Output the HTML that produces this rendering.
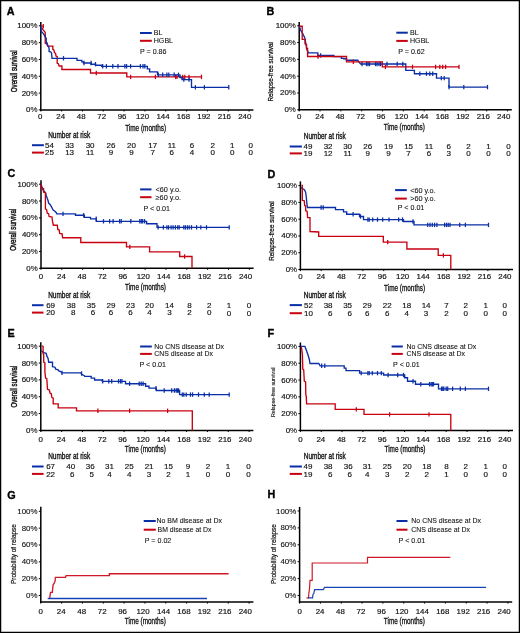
<!DOCTYPE html>
<html><head><meta charset="utf-8"><style>
html,body{margin:0;padding:0;background:#fff;}
svg{display:block;will-change:transform;}
text{font-family:"Liberation Sans", sans-serif;}
</style></head><body>
<svg width="520" height="633" viewBox="0 0 520 633">
<rect x="0" y="0" width="520" height="633" fill="#fff"/>
<text x="6.80" y="14.60" font-size="10.8" text-anchor="start" font-weight="bold" fill="#000" stroke="#000" stroke-width="0.35">A</text>
<line x1="40.80" y1="21.90" x2="40.80" y2="110.65" stroke="#000" stroke-width="1.5"/>
<line x1="40.05" y1="109.90" x2="253.40" y2="109.90" stroke="#000" stroke-width="1.5"/>
<line x1="38.80" y1="25.80" x2="40.80" y2="25.80" stroke="#000" stroke-width="1.0"/>
<text x="37.50" y="28.30" font-size="7.9" text-anchor="end" fill="#111" stroke="#111" stroke-width="0.18">100<tspan fill="#333" stroke-width="0.15">%</tspan></text>
<line x1="38.80" y1="42.62" x2="40.80" y2="42.62" stroke="#000" stroke-width="1.0"/>
<text x="37.50" y="45.12" font-size="7.9" text-anchor="end" fill="#111" stroke="#111" stroke-width="0.18">80<tspan fill="#333" stroke-width="0.15">%</tspan></text>
<line x1="38.80" y1="59.44" x2="40.80" y2="59.44" stroke="#000" stroke-width="1.0"/>
<text x="37.50" y="61.94" font-size="7.9" text-anchor="end" fill="#111" stroke="#111" stroke-width="0.18">60<tspan fill="#333" stroke-width="0.15">%</tspan></text>
<line x1="38.80" y1="76.26" x2="40.80" y2="76.26" stroke="#000" stroke-width="1.0"/>
<text x="37.50" y="78.76" font-size="7.9" text-anchor="end" fill="#111" stroke="#111" stroke-width="0.18">40<tspan fill="#333" stroke-width="0.15">%</tspan></text>
<line x1="38.80" y1="93.08" x2="40.80" y2="93.08" stroke="#000" stroke-width="1.0"/>
<text x="37.50" y="95.58" font-size="7.9" text-anchor="end" fill="#111" stroke="#111" stroke-width="0.18">20<tspan fill="#333" stroke-width="0.15">%</tspan></text>
<line x1="38.80" y1="109.90" x2="40.80" y2="109.90" stroke="#000" stroke-width="1.0"/>
<text x="37.50" y="112.40" font-size="7.9" text-anchor="end" fill="#111" stroke="#111" stroke-width="0.18">0<tspan fill="#333" stroke-width="0.15">%</tspan></text>
<line x1="40.80" y1="109.90" x2="40.80" y2="111.50" stroke="#000" stroke-width="1.0"/>
<text x="40.30" y="118.90" font-size="7.9" text-anchor="middle" font-weight="normal" fill="#111" stroke="#111" stroke-width="0.18">0</text>
<line x1="61.63" y1="109.90" x2="61.63" y2="111.50" stroke="#000" stroke-width="1.0"/>
<text x="60.75" y="118.90" font-size="7.9" text-anchor="middle" font-weight="normal" fill="#111" stroke="#111" stroke-width="0.18">24</text>
<line x1="82.46" y1="109.90" x2="82.46" y2="111.50" stroke="#000" stroke-width="1.0"/>
<text x="81.20" y="118.90" font-size="7.9" text-anchor="middle" font-weight="normal" fill="#111" stroke="#111" stroke-width="0.18">48</text>
<line x1="103.29" y1="109.90" x2="103.29" y2="111.50" stroke="#000" stroke-width="1.0"/>
<text x="101.65" y="118.90" font-size="7.9" text-anchor="middle" font-weight="normal" fill="#111" stroke="#111" stroke-width="0.18">72</text>
<line x1="124.12" y1="109.90" x2="124.12" y2="111.50" stroke="#000" stroke-width="1.0"/>
<text x="122.10" y="118.90" font-size="7.9" text-anchor="middle" font-weight="normal" fill="#111" stroke="#111" stroke-width="0.18">96</text>
<line x1="144.95" y1="109.90" x2="144.95" y2="111.50" stroke="#000" stroke-width="1.0"/>
<text x="142.55" y="118.90" font-size="7.9" text-anchor="middle" font-weight="normal" fill="#111" stroke="#111" stroke-width="0.18">120</text>
<line x1="165.78" y1="109.90" x2="165.78" y2="111.50" stroke="#000" stroke-width="1.0"/>
<text x="163.00" y="118.90" font-size="7.9" text-anchor="middle" font-weight="normal" fill="#111" stroke="#111" stroke-width="0.18">144</text>
<line x1="186.61" y1="109.90" x2="186.61" y2="111.50" stroke="#000" stroke-width="1.0"/>
<text x="183.45" y="118.90" font-size="7.9" text-anchor="middle" font-weight="normal" fill="#111" stroke="#111" stroke-width="0.18">168</text>
<line x1="207.44" y1="109.90" x2="207.44" y2="111.50" stroke="#000" stroke-width="1.0"/>
<text x="203.90" y="118.90" font-size="7.9" text-anchor="middle" font-weight="normal" fill="#111" stroke="#111" stroke-width="0.18">192</text>
<line x1="228.27" y1="109.90" x2="228.27" y2="111.50" stroke="#000" stroke-width="1.0"/>
<text x="224.35" y="118.90" font-size="7.9" text-anchor="middle" font-weight="normal" fill="#111" stroke="#111" stroke-width="0.18">216</text>
<line x1="249.10" y1="109.90" x2="249.10" y2="111.50" stroke="#000" stroke-width="1.0"/>
<text x="244.80" y="118.90" font-size="7.9" text-anchor="middle" font-weight="normal" fill="#111" stroke="#111" stroke-width="0.18">240</text>
<text x="145.70" y="130.80" font-size="8.3" text-anchor="middle" font-weight="normal" fill="#111" textLength="41.0" lengthAdjust="spacingAndGlyphs" stroke="#111" stroke-width="0.3">Time (months)</text>
<g transform="translate(16.60,71.25) rotate(-90)">
<text x="0.00" y="0.00" font-size="8.6" text-anchor="middle" font-weight="normal" fill="#111" textLength="41.8" lengthAdjust="spacingAndGlyphs" stroke="#111" stroke-width="0.45">Overall survival</text>
</g>
<line x1="140.00" y1="33.00" x2="151.80" y2="33.00" stroke="#0a2ea6" stroke-width="2.0"/>
<line x1="140.00" y1="40.80" x2="151.80" y2="40.80" stroke="#c80010" stroke-width="2.0"/>
<text x="153.75" y="35.40" font-size="7.1" text-anchor="start" font-weight="normal" fill="#111" stroke="#111" stroke-width="0.08">BL</text>
<text x="153.75" y="43.20" font-size="7.1" text-anchor="start" font-weight="normal" fill="#111" stroke="#111" stroke-width="0.08">HGBL</text>
<text x="140.00" y="53.80" font-size="7.1" text-anchor="start" font-weight="normal" fill="#111" stroke="#111" stroke-width="0.08">P = 0.86</text>
<text x="48.20" y="137.90" font-size="8.8" text-anchor="start" font-weight="normal" fill="#111" textLength="42" lengthAdjust="spacingAndGlyphs" stroke="#111" stroke-width="0.35">Number at risk</text>
<line x1="32.00" y1="145.20" x2="43.90" y2="145.20" stroke="#0a2ea6" stroke-width="2.0"/>
<line x1="32.00" y1="152.60" x2="43.90" y2="152.60" stroke="#c80010" stroke-width="2.0"/>
<text x="49.50" y="147.60" font-size="8.0" text-anchor="middle" font-weight="normal" fill="#111" stroke="#111" stroke-width="0.15">54</text>
<text x="49.50" y="155.00" font-size="8.0" text-anchor="middle" font-weight="normal" fill="#111" stroke="#111" stroke-width="0.15">25</text>
<text x="69.60" y="147.60" font-size="8.0" text-anchor="middle" font-weight="normal" fill="#111" stroke="#111" stroke-width="0.15">33</text>
<text x="69.60" y="155.00" font-size="8.0" text-anchor="middle" font-weight="normal" fill="#111" stroke="#111" stroke-width="0.15">13</text>
<text x="90.10" y="147.60" font-size="8.0" text-anchor="middle" font-weight="normal" fill="#111" stroke="#111" stroke-width="0.15">30</text>
<text x="90.10" y="155.00" font-size="8.0" text-anchor="middle" font-weight="normal" fill="#111" stroke="#111" stroke-width="0.15">11</text>
<text x="110.90" y="147.60" font-size="8.0" text-anchor="middle" font-weight="normal" fill="#111" stroke="#111" stroke-width="0.15">26</text>
<text x="110.90" y="155.00" font-size="8.0" text-anchor="middle" font-weight="normal" fill="#111" stroke="#111" stroke-width="0.15">9</text>
<text x="131.40" y="147.60" font-size="8.0" text-anchor="middle" font-weight="normal" fill="#111" stroke="#111" stroke-width="0.15">20</text>
<text x="131.40" y="155.00" font-size="8.0" text-anchor="middle" font-weight="normal" fill="#111" stroke="#111" stroke-width="0.15">9</text>
<text x="152.70" y="147.60" font-size="8.0" text-anchor="middle" font-weight="normal" fill="#111" stroke="#111" stroke-width="0.15">17</text>
<text x="152.70" y="155.00" font-size="8.0" text-anchor="middle" font-weight="normal" fill="#111" stroke="#111" stroke-width="0.15">7</text>
<text x="171.80" y="147.60" font-size="8.0" text-anchor="middle" font-weight="normal" fill="#111" stroke="#111" stroke-width="0.15">11</text>
<text x="171.80" y="155.00" font-size="8.0" text-anchor="middle" font-weight="normal" fill="#111" stroke="#111" stroke-width="0.15">6</text>
<text x="191.90" y="147.60" font-size="8.0" text-anchor="middle" font-weight="normal" fill="#111" stroke="#111" stroke-width="0.15">6</text>
<text x="191.90" y="155.00" font-size="8.0" text-anchor="middle" font-weight="normal" fill="#111" stroke="#111" stroke-width="0.15">4</text>
<text x="212.70" y="147.60" font-size="8.0" text-anchor="middle" font-weight="normal" fill="#111" stroke="#111" stroke-width="0.15">2</text>
<text x="212.70" y="155.00" font-size="8.0" text-anchor="middle" font-weight="normal" fill="#111" stroke="#111" stroke-width="0.15">0</text>
<text x="232.30" y="147.60" font-size="8.0" text-anchor="middle" font-weight="normal" fill="#111" stroke="#111" stroke-width="0.15">1</text>
<text x="232.30" y="155.00" font-size="8.0" text-anchor="middle" font-weight="normal" fill="#111" stroke="#111" stroke-width="0.15">0</text>
<text x="250.80" y="147.60" font-size="8.0" text-anchor="middle" font-weight="normal" fill="#111" stroke="#111" stroke-width="0.15">0</text>
<text x="250.80" y="155.00" font-size="8.0" text-anchor="middle" font-weight="normal" fill="#111" stroke="#111" stroke-width="0.15">0</text>
<path d="M41.2,26.1 H43.8 M41.9,27.6 L42.8,29.3 L43.8,30.7 L44.5,31.2 L45.25,32.6 V43.2 L46.8,43.8 L47.6,46.1 H52.8 V49.4 L54,50.2 L54.4,52.6 L55.6,53.4 L56,56.1 L57.2,56.5 V63.3 L58.3,63.6 L59.1,66 H61.9 V69.5 H90.5 V73 H126.8 V76.9 H201.5" fill="none" stroke="#c80010" stroke-width="1.35" stroke-linejoin="miter"/>
<line x1="43.30" y1="23.90" x2="43.30" y2="28.30" stroke="#c80010" stroke-width="1.25"/>
<line x1="96.30" y1="70.80" x2="96.30" y2="75.20" stroke="#c80010" stroke-width="1.25"/>
<line x1="130.60" y1="74.70" x2="130.60" y2="79.10" stroke="#c80010" stroke-width="1.25"/>
<line x1="155.40" y1="74.70" x2="155.40" y2="79.10" stroke="#c80010" stroke-width="1.25"/>
<line x1="175.60" y1="74.70" x2="175.60" y2="79.10" stroke="#c80010" stroke-width="1.25"/>
<line x1="176.90" y1="74.70" x2="176.90" y2="79.10" stroke="#c80010" stroke-width="1.25"/>
<line x1="182.70" y1="74.70" x2="182.70" y2="79.10" stroke="#c80010" stroke-width="1.25"/>
<line x1="184.80" y1="74.70" x2="184.80" y2="79.10" stroke="#c80010" stroke-width="1.25"/>
<line x1="189.00" y1="74.70" x2="189.00" y2="79.10" stroke="#c80010" stroke-width="1.25"/>
<line x1="201.50" y1="74.70" x2="201.50" y2="79.10" stroke="#c80010" stroke-width="1.25"/>
<path d="M40.9,25.9 L41.2,31.7 L41.9,32.1 L43.3,33.6 L44.3,35 L44.8,36.5 L45.7,37.4 L46.2,38.4 V42.2 L47.2,43.2 L47.7,45.6 L48.6,46.6 L49.1,48.5 V51.4 L50.5,51.8 L51.5,52.8 L51.7,55 L52,58.3 H77 V60.4 H81.8 V61.8 H83.4 V63 H91.1 V64.2 H95.5 V65.2 H101.5 V66.3 H147.3 V68.8 H149.6 V71.9 H157.5 V74.8 H180 V77.5 H182 V79.6 H191.5 V87.3 H228.8" fill="none" stroke="#0a2ea6" stroke-width="1.35" stroke-linejoin="miter"/>
<line x1="63.50" y1="56.10" x2="63.50" y2="60.50" stroke="#0a2ea6" stroke-width="1.25"/>
<line x1="84.00" y1="60.80" x2="84.00" y2="65.20" stroke="#0a2ea6" stroke-width="1.25"/>
<line x1="91.10" y1="60.80" x2="91.10" y2="65.20" stroke="#0a2ea6" stroke-width="1.25"/>
<line x1="95.50" y1="62.00" x2="95.50" y2="66.40" stroke="#0a2ea6" stroke-width="1.25"/>
<line x1="102.70" y1="64.10" x2="102.70" y2="68.50" stroke="#0a2ea6" stroke-width="1.25"/>
<line x1="106.40" y1="64.10" x2="106.40" y2="68.50" stroke="#0a2ea6" stroke-width="1.25"/>
<line x1="112.80" y1="64.10" x2="112.80" y2="68.50" stroke="#0a2ea6" stroke-width="1.25"/>
<line x1="118.00" y1="64.10" x2="118.00" y2="68.50" stroke="#0a2ea6" stroke-width="1.25"/>
<line x1="124.90" y1="64.10" x2="124.90" y2="68.50" stroke="#0a2ea6" stroke-width="1.25"/>
<line x1="126.60" y1="64.10" x2="126.60" y2="68.50" stroke="#0a2ea6" stroke-width="1.25"/>
<line x1="130.60" y1="64.10" x2="130.60" y2="68.50" stroke="#0a2ea6" stroke-width="1.25"/>
<line x1="140.40" y1="64.10" x2="140.40" y2="68.50" stroke="#0a2ea6" stroke-width="1.25"/>
<line x1="143.00" y1="64.10" x2="143.00" y2="68.50" stroke="#0a2ea6" stroke-width="1.25"/>
<line x1="144.80" y1="64.10" x2="144.80" y2="68.50" stroke="#0a2ea6" stroke-width="1.25"/>
<line x1="158.30" y1="72.60" x2="158.30" y2="77.00" stroke="#0a2ea6" stroke-width="1.25"/>
<line x1="162.70" y1="72.60" x2="162.70" y2="77.00" stroke="#0a2ea6" stroke-width="1.25"/>
<line x1="166.90" y1="72.60" x2="166.90" y2="77.00" stroke="#0a2ea6" stroke-width="1.25"/>
<line x1="168.80" y1="72.60" x2="168.80" y2="77.00" stroke="#0a2ea6" stroke-width="1.25"/>
<line x1="174.20" y1="72.60" x2="174.20" y2="77.00" stroke="#0a2ea6" stroke-width="1.25"/>
<line x1="178.50" y1="72.60" x2="178.50" y2="77.00" stroke="#0a2ea6" stroke-width="1.25"/>
<line x1="183.80" y1="77.40" x2="183.80" y2="81.80" stroke="#0a2ea6" stroke-width="1.25"/>
<line x1="189.00" y1="77.40" x2="189.00" y2="81.80" stroke="#0a2ea6" stroke-width="1.25"/>
<line x1="195.40" y1="85.10" x2="195.40" y2="89.50" stroke="#0a2ea6" stroke-width="1.25"/>
<line x1="204.40" y1="85.10" x2="204.40" y2="89.50" stroke="#0a2ea6" stroke-width="1.25"/>
<line x1="228.80" y1="85.10" x2="228.80" y2="89.50" stroke="#0a2ea6" stroke-width="1.25"/>
<text x="266.50" y="14.80" font-size="10.8" text-anchor="start" font-weight="bold" fill="#000" stroke="#000" stroke-width="0.35">B</text>
<line x1="299.20" y1="22.00" x2="299.20" y2="110.55" stroke="#000" stroke-width="1.5"/>
<line x1="298.45" y1="109.80" x2="511.80" y2="109.80" stroke="#000" stroke-width="1.5"/>
<line x1="297.20" y1="25.75" x2="299.20" y2="25.75" stroke="#000" stroke-width="1.0"/>
<text x="295.90" y="28.25" font-size="7.9" text-anchor="end" fill="#111" stroke="#111" stroke-width="0.18">100<tspan fill="#333" stroke-width="0.15">%</tspan></text>
<line x1="297.20" y1="42.56" x2="299.20" y2="42.56" stroke="#000" stroke-width="1.0"/>
<text x="295.90" y="45.06" font-size="7.9" text-anchor="end" fill="#111" stroke="#111" stroke-width="0.18">80<tspan fill="#333" stroke-width="0.15">%</tspan></text>
<line x1="297.20" y1="59.37" x2="299.20" y2="59.37" stroke="#000" stroke-width="1.0"/>
<text x="295.90" y="61.87" font-size="7.9" text-anchor="end" fill="#111" stroke="#111" stroke-width="0.18">60<tspan fill="#333" stroke-width="0.15">%</tspan></text>
<line x1="297.20" y1="76.18" x2="299.20" y2="76.18" stroke="#000" stroke-width="1.0"/>
<text x="295.90" y="78.68" font-size="7.9" text-anchor="end" fill="#111" stroke="#111" stroke-width="0.18">40<tspan fill="#333" stroke-width="0.15">%</tspan></text>
<line x1="297.20" y1="92.99" x2="299.20" y2="92.99" stroke="#000" stroke-width="1.0"/>
<text x="295.90" y="95.49" font-size="7.9" text-anchor="end" fill="#111" stroke="#111" stroke-width="0.18">20<tspan fill="#333" stroke-width="0.15">%</tspan></text>
<line x1="297.20" y1="109.80" x2="299.20" y2="109.80" stroke="#000" stroke-width="1.0"/>
<text x="295.90" y="112.30" font-size="7.9" text-anchor="end" fill="#111" stroke="#111" stroke-width="0.18">0<tspan fill="#333" stroke-width="0.15">%</tspan></text>
<line x1="299.20" y1="109.80" x2="299.20" y2="111.40" stroke="#000" stroke-width="1.0"/>
<text x="299.20" y="118.90" font-size="7.9" text-anchor="middle" font-weight="normal" fill="#111" stroke="#111" stroke-width="0.18">0</text>
<line x1="320.03" y1="109.80" x2="320.03" y2="111.40" stroke="#000" stroke-width="1.0"/>
<text x="319.65" y="118.90" font-size="7.9" text-anchor="middle" font-weight="normal" fill="#111" stroke="#111" stroke-width="0.18">24</text>
<line x1="340.86" y1="109.80" x2="340.86" y2="111.40" stroke="#000" stroke-width="1.0"/>
<text x="340.10" y="118.90" font-size="7.9" text-anchor="middle" font-weight="normal" fill="#111" stroke="#111" stroke-width="0.18">48</text>
<line x1="361.69" y1="109.80" x2="361.69" y2="111.40" stroke="#000" stroke-width="1.0"/>
<text x="360.55" y="118.90" font-size="7.9" text-anchor="middle" font-weight="normal" fill="#111" stroke="#111" stroke-width="0.18">72</text>
<line x1="382.52" y1="109.80" x2="382.52" y2="111.40" stroke="#000" stroke-width="1.0"/>
<text x="381.00" y="118.90" font-size="7.9" text-anchor="middle" font-weight="normal" fill="#111" stroke="#111" stroke-width="0.18">96</text>
<line x1="403.35" y1="109.80" x2="403.35" y2="111.40" stroke="#000" stroke-width="1.0"/>
<text x="401.45" y="118.90" font-size="7.9" text-anchor="middle" font-weight="normal" fill="#111" stroke="#111" stroke-width="0.18">120</text>
<line x1="424.18" y1="109.80" x2="424.18" y2="111.40" stroke="#000" stroke-width="1.0"/>
<text x="421.90" y="118.90" font-size="7.9" text-anchor="middle" font-weight="normal" fill="#111" stroke="#111" stroke-width="0.18">144</text>
<line x1="445.01" y1="109.80" x2="445.01" y2="111.40" stroke="#000" stroke-width="1.0"/>
<text x="442.35" y="118.90" font-size="7.9" text-anchor="middle" font-weight="normal" fill="#111" stroke="#111" stroke-width="0.18">168</text>
<line x1="465.84" y1="109.80" x2="465.84" y2="111.40" stroke="#000" stroke-width="1.0"/>
<text x="462.80" y="118.90" font-size="7.9" text-anchor="middle" font-weight="normal" fill="#111" stroke="#111" stroke-width="0.18">192</text>
<line x1="486.67" y1="109.80" x2="486.67" y2="111.40" stroke="#000" stroke-width="1.0"/>
<text x="483.25" y="118.90" font-size="7.9" text-anchor="middle" font-weight="normal" fill="#111" stroke="#111" stroke-width="0.18">216</text>
<line x1="507.50" y1="109.80" x2="507.50" y2="111.40" stroke="#000" stroke-width="1.0"/>
<text x="503.70" y="118.90" font-size="7.9" text-anchor="middle" font-weight="normal" fill="#111" stroke="#111" stroke-width="0.18">240</text>
<text x="404.35" y="130.40" font-size="8.3" text-anchor="middle" font-weight="normal" fill="#111" textLength="41.0" lengthAdjust="spacingAndGlyphs" stroke="#111" stroke-width="0.3">Time (months)</text>
<g transform="translate(273.40,71.80) rotate(-90)">
<text x="0.00" y="0.00" font-size="7.4" text-anchor="middle" font-weight="normal" fill="#111" textLength="59.5" lengthAdjust="spacingAndGlyphs" stroke="#111" stroke-width="0.25">Relapse-free survival</text>
</g>
<line x1="396.30" y1="32.70" x2="407.80" y2="32.70" stroke="#0a2ea6" stroke-width="2.0"/>
<line x1="396.30" y1="40.90" x2="407.80" y2="40.90" stroke="#c80010" stroke-width="2.0"/>
<text x="410.00" y="35.10" font-size="7.1" text-anchor="start" font-weight="normal" fill="#111" stroke="#111" stroke-width="0.08">BL</text>
<text x="410.00" y="43.30" font-size="7.1" text-anchor="start" font-weight="normal" fill="#111" stroke="#111" stroke-width="0.08">HGBL</text>
<text x="398.20" y="53.80" font-size="7.1" text-anchor="start" font-weight="normal" fill="#111" stroke="#111" stroke-width="0.08">P = 0.62</text>
<text x="303.80" y="138.90" font-size="8.8" text-anchor="start" font-weight="normal" fill="#111" textLength="42" lengthAdjust="spacingAndGlyphs" stroke="#111" stroke-width="0.35">Number at risk</text>
<line x1="289.70" y1="146.50" x2="301.90" y2="146.50" stroke="#0a2ea6" stroke-width="2.0"/>
<line x1="289.70" y1="153.40" x2="301.90" y2="153.40" stroke="#c80010" stroke-width="2.0"/>
<text x="308.00" y="148.80" font-size="8.0" text-anchor="middle" font-weight="normal" fill="#111" stroke="#111" stroke-width="0.15">49</text>
<text x="308.00" y="156.20" font-size="8.0" text-anchor="middle" font-weight="normal" fill="#111" stroke="#111" stroke-width="0.15">19</text>
<text x="328.10" y="148.80" font-size="8.0" text-anchor="middle" font-weight="normal" fill="#111" stroke="#111" stroke-width="0.15">32</text>
<text x="328.10" y="156.20" font-size="8.0" text-anchor="middle" font-weight="normal" fill="#111" stroke="#111" stroke-width="0.15">12</text>
<text x="347.60" y="148.80" font-size="8.0" text-anchor="middle" font-weight="normal" fill="#111" stroke="#111" stroke-width="0.15">30</text>
<text x="347.60" y="156.20" font-size="8.0" text-anchor="middle" font-weight="normal" fill="#111" stroke="#111" stroke-width="0.15">11</text>
<text x="367.70" y="148.80" font-size="8.0" text-anchor="middle" font-weight="normal" fill="#111" stroke="#111" stroke-width="0.15">26</text>
<text x="367.70" y="156.20" font-size="8.0" text-anchor="middle" font-weight="normal" fill="#111" stroke="#111" stroke-width="0.15">9</text>
<text x="388.40" y="148.80" font-size="8.0" text-anchor="middle" font-weight="normal" fill="#111" stroke="#111" stroke-width="0.15">19</text>
<text x="388.40" y="156.20" font-size="8.0" text-anchor="middle" font-weight="normal" fill="#111" stroke="#111" stroke-width="0.15">9</text>
<text x="408.60" y="148.80" font-size="8.0" text-anchor="middle" font-weight="normal" fill="#111" stroke="#111" stroke-width="0.15">15</text>
<text x="408.60" y="156.20" font-size="8.0" text-anchor="middle" font-weight="normal" fill="#111" stroke="#111" stroke-width="0.15">7</text>
<text x="429.00" y="148.80" font-size="8.0" text-anchor="middle" font-weight="normal" fill="#111" stroke="#111" stroke-width="0.15">11</text>
<text x="429.00" y="156.20" font-size="8.0" text-anchor="middle" font-weight="normal" fill="#111" stroke="#111" stroke-width="0.15">6</text>
<text x="448.80" y="148.80" font-size="8.0" text-anchor="middle" font-weight="normal" fill="#111" stroke="#111" stroke-width="0.15">6</text>
<text x="448.80" y="156.20" font-size="8.0" text-anchor="middle" font-weight="normal" fill="#111" stroke="#111" stroke-width="0.15">3</text>
<text x="468.50" y="148.80" font-size="8.0" text-anchor="middle" font-weight="normal" fill="#111" stroke="#111" stroke-width="0.15">2</text>
<text x="468.50" y="156.20" font-size="8.0" text-anchor="middle" font-weight="normal" fill="#111" stroke="#111" stroke-width="0.15">0</text>
<text x="488.50" y="148.80" font-size="8.0" text-anchor="middle" font-weight="normal" fill="#111" stroke="#111" stroke-width="0.15">1</text>
<text x="488.50" y="156.20" font-size="8.0" text-anchor="middle" font-weight="normal" fill="#111" stroke="#111" stroke-width="0.15">0</text>
<text x="508.50" y="148.80" font-size="8.0" text-anchor="middle" font-weight="normal" fill="#111" stroke="#111" stroke-width="0.15">0</text>
<text x="508.50" y="156.20" font-size="8.0" text-anchor="middle" font-weight="normal" fill="#111" stroke="#111" stroke-width="0.15">0</text>
<path d="M299.3,26 L300.5,30 L303,34 L305,38.5 L305.5,42 L306.3,46 L307,50 L308.5,52.8 H317.8 V55.4 H333.9 V56.6 H341.4 V58.3 H343.8 V58.7 H346.5 V60.2 H357.8 L359,62.1 L360.7,64 H405.8 V70.4 H414.4 V73.7 H436.5 V78.1 H449 V87.1 H487.5" fill="none" stroke="#0a2ea6" stroke-width="1.35" stroke-linejoin="miter"/>
<line x1="320.60" y1="53.20" x2="320.60" y2="57.60" stroke="#0a2ea6" stroke-width="1.25"/>
<line x1="362.00" y1="61.80" x2="362.00" y2="66.20" stroke="#0a2ea6" stroke-width="1.25"/>
<line x1="366.50" y1="61.80" x2="366.50" y2="66.20" stroke="#0a2ea6" stroke-width="1.25"/>
<line x1="368.00" y1="61.80" x2="368.00" y2="66.20" stroke="#0a2ea6" stroke-width="1.25"/>
<line x1="369.50" y1="61.80" x2="369.50" y2="66.20" stroke="#0a2ea6" stroke-width="1.25"/>
<line x1="375.50" y1="61.80" x2="375.50" y2="66.20" stroke="#0a2ea6" stroke-width="1.25"/>
<line x1="377.00" y1="61.80" x2="377.00" y2="66.20" stroke="#0a2ea6" stroke-width="1.25"/>
<line x1="379.00" y1="61.80" x2="379.00" y2="66.20" stroke="#0a2ea6" stroke-width="1.25"/>
<line x1="380.50" y1="61.80" x2="380.50" y2="66.20" stroke="#0a2ea6" stroke-width="1.25"/>
<line x1="387.00" y1="61.80" x2="387.00" y2="66.20" stroke="#0a2ea6" stroke-width="1.25"/>
<line x1="397.20" y1="61.80" x2="397.20" y2="66.20" stroke="#0a2ea6" stroke-width="1.25"/>
<line x1="402.80" y1="61.80" x2="402.80" y2="66.20" stroke="#0a2ea6" stroke-width="1.25"/>
<line x1="419.80" y1="71.50" x2="419.80" y2="75.90" stroke="#0a2ea6" stroke-width="1.25"/>
<line x1="426.50" y1="71.50" x2="426.50" y2="75.90" stroke="#0a2ea6" stroke-width="1.25"/>
<line x1="429.80" y1="71.50" x2="429.80" y2="75.90" stroke="#0a2ea6" stroke-width="1.25"/>
<line x1="432.70" y1="71.50" x2="432.70" y2="75.90" stroke="#0a2ea6" stroke-width="1.25"/>
<line x1="441.30" y1="75.90" x2="441.30" y2="80.30" stroke="#0a2ea6" stroke-width="1.25"/>
<line x1="444.20" y1="75.90" x2="444.20" y2="80.30" stroke="#0a2ea6" stroke-width="1.25"/>
<line x1="449.00" y1="84.90" x2="449.00" y2="89.30" stroke="#0a2ea6" stroke-width="1.25"/>
<line x1="463.80" y1="84.90" x2="463.80" y2="89.30" stroke="#0a2ea6" stroke-width="1.25"/>
<line x1="487.50" y1="84.90" x2="487.50" y2="89.30" stroke="#0a2ea6" stroke-width="1.25"/>
<path d="M299.5,26.2 H302.2 V39.3 H305 V43.9 L306.5,44.5 V48.5 H307.6 V56.5 H346.5 V61.8 H382.3 V66.9 H459" fill="none" stroke="#c80010" stroke-width="1.35" stroke-linejoin="miter"/>
<line x1="318.00" y1="54.30" x2="318.00" y2="58.70" stroke="#c80010" stroke-width="1.25"/>
<line x1="353.30" y1="59.60" x2="353.30" y2="64.00" stroke="#c80010" stroke-width="1.25"/>
<line x1="385.40" y1="64.70" x2="385.40" y2="69.10" stroke="#c80010" stroke-width="1.25"/>
<line x1="412.50" y1="64.70" x2="412.50" y2="69.10" stroke="#c80010" stroke-width="1.25"/>
<line x1="435.60" y1="64.70" x2="435.60" y2="69.10" stroke="#c80010" stroke-width="1.25"/>
<line x1="439.80" y1="64.70" x2="439.80" y2="69.10" stroke="#c80010" stroke-width="1.25"/>
<line x1="442.70" y1="64.70" x2="442.70" y2="69.10" stroke="#c80010" stroke-width="1.25"/>
<line x1="445.60" y1="64.70" x2="445.60" y2="69.10" stroke="#c80010" stroke-width="1.25"/>
<line x1="459.00" y1="64.70" x2="459.00" y2="69.10" stroke="#c80010" stroke-width="1.25"/>
<text x="7.50" y="176.70" font-size="10.8" text-anchor="start" font-weight="bold" fill="#000" stroke="#000" stroke-width="0.35">C</text>
<line x1="41.00" y1="180.20" x2="41.00" y2="269.05" stroke="#000" stroke-width="1.5"/>
<line x1="40.25" y1="268.30" x2="253.60" y2="268.30" stroke="#000" stroke-width="1.5"/>
<line x1="39.00" y1="184.20" x2="41.00" y2="184.20" stroke="#000" stroke-width="1.0"/>
<text x="37.70" y="186.70" font-size="7.9" text-anchor="end" fill="#111" stroke="#111" stroke-width="0.18">100<tspan fill="#333" stroke-width="0.15">%</tspan></text>
<line x1="39.00" y1="201.02" x2="41.00" y2="201.02" stroke="#000" stroke-width="1.0"/>
<text x="37.70" y="203.52" font-size="7.9" text-anchor="end" fill="#111" stroke="#111" stroke-width="0.18">80<tspan fill="#333" stroke-width="0.15">%</tspan></text>
<line x1="39.00" y1="217.84" x2="41.00" y2="217.84" stroke="#000" stroke-width="1.0"/>
<text x="37.70" y="220.34" font-size="7.9" text-anchor="end" fill="#111" stroke="#111" stroke-width="0.18">60<tspan fill="#333" stroke-width="0.15">%</tspan></text>
<line x1="39.00" y1="234.66" x2="41.00" y2="234.66" stroke="#000" stroke-width="1.0"/>
<text x="37.70" y="237.16" font-size="7.9" text-anchor="end" fill="#111" stroke="#111" stroke-width="0.18">40<tspan fill="#333" stroke-width="0.15">%</tspan></text>
<line x1="39.00" y1="251.48" x2="41.00" y2="251.48" stroke="#000" stroke-width="1.0"/>
<text x="37.70" y="253.98" font-size="7.9" text-anchor="end" fill="#111" stroke="#111" stroke-width="0.18">20<tspan fill="#333" stroke-width="0.15">%</tspan></text>
<line x1="39.00" y1="268.30" x2="41.00" y2="268.30" stroke="#000" stroke-width="1.0"/>
<text x="37.70" y="270.80" font-size="7.9" text-anchor="end" fill="#111" stroke="#111" stroke-width="0.18">0<tspan fill="#333" stroke-width="0.15">%</tspan></text>
<line x1="41.00" y1="268.30" x2="41.00" y2="269.90" stroke="#000" stroke-width="1.0"/>
<text x="41.00" y="279.10" font-size="7.9" text-anchor="middle" font-weight="normal" fill="#111" stroke="#111" stroke-width="0.18">0</text>
<line x1="61.83" y1="268.30" x2="61.83" y2="269.90" stroke="#000" stroke-width="1.0"/>
<text x="61.45" y="279.10" font-size="7.9" text-anchor="middle" font-weight="normal" fill="#111" stroke="#111" stroke-width="0.18">24</text>
<line x1="82.66" y1="268.30" x2="82.66" y2="269.90" stroke="#000" stroke-width="1.0"/>
<text x="81.90" y="279.10" font-size="7.9" text-anchor="middle" font-weight="normal" fill="#111" stroke="#111" stroke-width="0.18">48</text>
<line x1="103.49" y1="268.30" x2="103.49" y2="269.90" stroke="#000" stroke-width="1.0"/>
<text x="102.35" y="279.10" font-size="7.9" text-anchor="middle" font-weight="normal" fill="#111" stroke="#111" stroke-width="0.18">72</text>
<line x1="124.32" y1="268.30" x2="124.32" y2="269.90" stroke="#000" stroke-width="1.0"/>
<text x="122.80" y="279.10" font-size="7.9" text-anchor="middle" font-weight="normal" fill="#111" stroke="#111" stroke-width="0.18">96</text>
<line x1="145.15" y1="268.30" x2="145.15" y2="269.90" stroke="#000" stroke-width="1.0"/>
<text x="143.25" y="279.10" font-size="7.9" text-anchor="middle" font-weight="normal" fill="#111" stroke="#111" stroke-width="0.18">120</text>
<line x1="165.98" y1="268.30" x2="165.98" y2="269.90" stroke="#000" stroke-width="1.0"/>
<text x="163.70" y="279.10" font-size="7.9" text-anchor="middle" font-weight="normal" fill="#111" stroke="#111" stroke-width="0.18">144</text>
<line x1="186.81" y1="268.30" x2="186.81" y2="269.90" stroke="#000" stroke-width="1.0"/>
<text x="184.15" y="279.10" font-size="7.9" text-anchor="middle" font-weight="normal" fill="#111" stroke="#111" stroke-width="0.18">168</text>
<line x1="207.64" y1="268.30" x2="207.64" y2="269.90" stroke="#000" stroke-width="1.0"/>
<text x="204.60" y="279.10" font-size="7.9" text-anchor="middle" font-weight="normal" fill="#111" stroke="#111" stroke-width="0.18">192</text>
<line x1="228.47" y1="268.30" x2="228.47" y2="269.90" stroke="#000" stroke-width="1.0"/>
<text x="225.05" y="279.10" font-size="7.9" text-anchor="middle" font-weight="normal" fill="#111" stroke="#111" stroke-width="0.18">216</text>
<line x1="249.30" y1="268.30" x2="249.30" y2="269.90" stroke="#000" stroke-width="1.0"/>
<text x="245.50" y="279.10" font-size="7.9" text-anchor="middle" font-weight="normal" fill="#111" stroke="#111" stroke-width="0.18">240</text>
<text x="145.50" y="289.50" font-size="8.3" text-anchor="middle" font-weight="normal" fill="#111" textLength="41.0" lengthAdjust="spacingAndGlyphs" stroke="#111" stroke-width="0.3">Time (months)</text>
<g transform="translate(16.40,229.80) rotate(-90)">
<text x="0.00" y="0.00" font-size="8.6" text-anchor="middle" font-weight="normal" fill="#111" textLength="42.1" lengthAdjust="spacingAndGlyphs" stroke="#111" stroke-width="0.45">Overall survival</text>
</g>
<line x1="140.10" y1="189.40" x2="151.50" y2="189.40" stroke="#0a2ea6" stroke-width="2.0"/>
<line x1="140.10" y1="197.20" x2="151.50" y2="197.20" stroke="#c80010" stroke-width="2.0"/>
<text x="155.60" y="191.80" font-size="7.1" text-anchor="start" font-weight="normal" fill="#111" textLength="25.5" lengthAdjust="spacingAndGlyphs" stroke="#111" stroke-width="0.08">&lt;60 y.o.</text>
<text x="155.60" y="199.60" font-size="7.1" text-anchor="start" font-weight="normal" fill="#111" textLength="25.5" lengthAdjust="spacingAndGlyphs" stroke="#111" stroke-width="0.08">≥60 y.o.</text>
<text x="143.50" y="210.60" font-size="7.1" text-anchor="start" font-weight="normal" fill="#111" stroke="#111" stroke-width="0.08">P &lt; 0.01</text>
<text x="48.20" y="298.00" font-size="8.8" text-anchor="start" font-weight="normal" fill="#111" textLength="42" lengthAdjust="spacingAndGlyphs" stroke="#111" stroke-width="0.35">Number at risk</text>
<line x1="32.00" y1="305.20" x2="43.50" y2="305.20" stroke="#0a2ea6" stroke-width="2.0"/>
<line x1="32.00" y1="312.60" x2="43.50" y2="312.60" stroke="#c80010" stroke-width="2.0"/>
<text x="50.60" y="307.70" font-size="8.0" text-anchor="middle" font-weight="normal" fill="#111" stroke="#111" stroke-width="0.15">69</text>
<text x="50.60" y="315.00" font-size="8.0" text-anchor="middle" font-weight="normal" fill="#111" stroke="#111" stroke-width="0.15">20</text>
<text x="71.30" y="307.70" font-size="8.0" text-anchor="middle" font-weight="normal" fill="#111" stroke="#111" stroke-width="0.15">38</text>
<text x="73.20" y="315.00" font-size="8.0" text-anchor="middle" font-weight="normal" fill="#111" stroke="#111" stroke-width="0.15">8</text>
<text x="91.20" y="307.70" font-size="8.0" text-anchor="middle" font-weight="normal" fill="#111" stroke="#111" stroke-width="0.15">35</text>
<text x="92.90" y="315.00" font-size="8.0" text-anchor="middle" font-weight="normal" fill="#111" stroke="#111" stroke-width="0.15">6</text>
<text x="110.90" y="307.70" font-size="8.0" text-anchor="middle" font-weight="normal" fill="#111" stroke="#111" stroke-width="0.15">29</text>
<text x="110.90" y="315.00" font-size="8.0" text-anchor="middle" font-weight="normal" fill="#111" stroke="#111" stroke-width="0.15">6</text>
<text x="130.50" y="307.70" font-size="8.0" text-anchor="middle" font-weight="normal" fill="#111" stroke="#111" stroke-width="0.15">23</text>
<text x="130.50" y="315.00" font-size="8.0" text-anchor="middle" font-weight="normal" fill="#111" stroke="#111" stroke-width="0.15">6</text>
<text x="149.50" y="307.70" font-size="8.0" text-anchor="middle" font-weight="normal" fill="#111" stroke="#111" stroke-width="0.15">20</text>
<text x="149.50" y="315.00" font-size="8.0" text-anchor="middle" font-weight="normal" fill="#111" stroke="#111" stroke-width="0.15">4</text>
<text x="169.50" y="307.70" font-size="8.0" text-anchor="middle" font-weight="normal" fill="#111" stroke="#111" stroke-width="0.15">14</text>
<text x="169.50" y="315.00" font-size="8.0" text-anchor="middle" font-weight="normal" fill="#111" stroke="#111" stroke-width="0.15">3</text>
<text x="189.50" y="307.70" font-size="8.0" text-anchor="middle" font-weight="normal" fill="#111" stroke="#111" stroke-width="0.15">8</text>
<text x="189.50" y="315.00" font-size="8.0" text-anchor="middle" font-weight="normal" fill="#111" stroke="#111" stroke-width="0.15">2</text>
<text x="209.20" y="307.70" font-size="8.0" text-anchor="middle" font-weight="normal" fill="#111" stroke="#111" stroke-width="0.15">2</text>
<text x="209.20" y="315.00" font-size="8.0" text-anchor="middle" font-weight="normal" fill="#111" stroke="#111" stroke-width="0.15">0</text>
<text x="229.00" y="307.70" font-size="8.0" text-anchor="middle" font-weight="normal" fill="#111" stroke="#111" stroke-width="0.15">1</text>
<text x="229.00" y="316.20" font-size="8.0" text-anchor="middle" font-weight="normal" fill="#111" stroke="#111" stroke-width="0.15">0</text>
<text x="248.90" y="307.70" font-size="8.0" text-anchor="middle" font-weight="normal" fill="#111" stroke="#111" stroke-width="0.15">0</text>
<text x="248.90" y="316.20" font-size="8.0" text-anchor="middle" font-weight="normal" fill="#111" stroke="#111" stroke-width="0.15">0</text>
<path d="M41.1,184.3 L41.9,186.7 L43.3,190.6 L44.8,192 L45.7,193 L46.2,195.4 L47.2,198.3 L48.1,200.7 L48.6,203.1 L50.1,204.5 L51.5,206.9 L52.5,208.8 L53.4,210.3 L54.9,211.3 L56.3,212.7 L56.8,213.9 H75.5 V215.2 H84.4 V217.4 H90.5 V218.8 H96.3 V221.3 H146.6 V223.7 H157 V227.4 H229.2" fill="none" stroke="#0a2ea6" stroke-width="1.35" stroke-linejoin="miter"/>
<line x1="63.00" y1="211.70" x2="63.00" y2="216.10" stroke="#0a2ea6" stroke-width="1.25"/>
<line x1="83.70" y1="213.00" x2="83.70" y2="217.40" stroke="#0a2ea6" stroke-width="1.25"/>
<line x1="96.20" y1="216.60" x2="96.20" y2="221.00" stroke="#0a2ea6" stroke-width="1.25"/>
<line x1="103.50" y1="219.10" x2="103.50" y2="223.50" stroke="#0a2ea6" stroke-width="1.25"/>
<line x1="109.60" y1="219.10" x2="109.60" y2="223.50" stroke="#0a2ea6" stroke-width="1.25"/>
<line x1="113.10" y1="219.10" x2="113.10" y2="223.50" stroke="#0a2ea6" stroke-width="1.25"/>
<line x1="119.60" y1="219.10" x2="119.60" y2="223.50" stroke="#0a2ea6" stroke-width="1.25"/>
<line x1="121.20" y1="219.10" x2="121.20" y2="223.50" stroke="#0a2ea6" stroke-width="1.25"/>
<line x1="130.80" y1="219.10" x2="130.80" y2="223.50" stroke="#0a2ea6" stroke-width="1.25"/>
<line x1="139.80" y1="219.10" x2="139.80" y2="223.50" stroke="#0a2ea6" stroke-width="1.25"/>
<line x1="141.30" y1="219.10" x2="141.30" y2="223.50" stroke="#0a2ea6" stroke-width="1.25"/>
<line x1="142.70" y1="219.10" x2="142.70" y2="223.50" stroke="#0a2ea6" stroke-width="1.25"/>
<line x1="144.60" y1="219.10" x2="144.60" y2="223.50" stroke="#0a2ea6" stroke-width="1.25"/>
<line x1="158.10" y1="225.20" x2="158.10" y2="229.60" stroke="#0a2ea6" stroke-width="1.25"/>
<line x1="163.40" y1="225.20" x2="163.40" y2="229.60" stroke="#0a2ea6" stroke-width="1.25"/>
<line x1="166.90" y1="225.20" x2="166.90" y2="229.60" stroke="#0a2ea6" stroke-width="1.25"/>
<line x1="168.50" y1="225.20" x2="168.50" y2="229.60" stroke="#0a2ea6" stroke-width="1.25"/>
<line x1="171.10" y1="225.20" x2="171.10" y2="229.60" stroke="#0a2ea6" stroke-width="1.25"/>
<line x1="173.10" y1="225.20" x2="173.10" y2="229.60" stroke="#0a2ea6" stroke-width="1.25"/>
<line x1="175.40" y1="225.20" x2="175.40" y2="229.60" stroke="#0a2ea6" stroke-width="1.25"/>
<line x1="177.70" y1="225.20" x2="177.70" y2="229.60" stroke="#0a2ea6" stroke-width="1.25"/>
<line x1="179.20" y1="225.20" x2="179.20" y2="229.60" stroke="#0a2ea6" stroke-width="1.25"/>
<line x1="183.80" y1="225.20" x2="183.80" y2="229.60" stroke="#0a2ea6" stroke-width="1.25"/>
<line x1="185.40" y1="225.20" x2="185.40" y2="229.60" stroke="#0a2ea6" stroke-width="1.25"/>
<line x1="187.40" y1="225.20" x2="187.40" y2="229.60" stroke="#0a2ea6" stroke-width="1.25"/>
<line x1="189.20" y1="225.20" x2="189.20" y2="229.60" stroke="#0a2ea6" stroke-width="1.25"/>
<line x1="191.50" y1="225.20" x2="191.50" y2="229.60" stroke="#0a2ea6" stroke-width="1.25"/>
<line x1="196.60" y1="225.20" x2="196.60" y2="229.60" stroke="#0a2ea6" stroke-width="1.25"/>
<line x1="200.80" y1="225.20" x2="200.80" y2="229.60" stroke="#0a2ea6" stroke-width="1.25"/>
<line x1="206.50" y1="225.20" x2="206.50" y2="229.60" stroke="#0a2ea6" stroke-width="1.25"/>
<line x1="229.20" y1="225.20" x2="229.20" y2="229.60" stroke="#0a2ea6" stroke-width="1.25"/>
<path d="M41.2,184.1 V188.2 L43.6,188.5 V192.2 L45.4,192.6 V208.8 L46.7,209.8 L47.2,213.2 L48.6,213.7 L49.1,216.5 L52,217 L52.5,221.3 L53.4,225.2 H57.3 L57.8,229.5 L59.2,230 L59.7,233.4 L62.1,233.8 L62.6,237.7 H80.8 V242.5 H126.5 V246.9 H149.6 V251.8 H179.7 V256.5 H192 V268.2" fill="none" stroke="#c80010" stroke-width="1.35" stroke-linejoin="miter"/>
<line x1="129.80" y1="244.70" x2="129.80" y2="249.10" stroke="#c80010" stroke-width="1.25"/>
<line x1="184.60" y1="254.30" x2="184.60" y2="258.70" stroke="#c80010" stroke-width="1.25"/>
<text x="267.50" y="177.60" font-size="10.8" text-anchor="start" font-weight="bold" fill="#000" stroke="#000" stroke-width="0.35">D</text>
<line x1="300.40" y1="181.40" x2="300.40" y2="270.25" stroke="#000" stroke-width="1.5"/>
<line x1="299.65" y1="269.50" x2="513.00" y2="269.50" stroke="#000" stroke-width="1.5"/>
<line x1="298.40" y1="185.60" x2="300.40" y2="185.60" stroke="#000" stroke-width="1.0"/>
<text x="297.10" y="188.10" font-size="7.9" text-anchor="end" fill="#111" stroke="#111" stroke-width="0.18">100<tspan fill="#333" stroke-width="0.15">%</tspan></text>
<line x1="298.40" y1="202.38" x2="300.40" y2="202.38" stroke="#000" stroke-width="1.0"/>
<text x="297.10" y="204.88" font-size="7.9" text-anchor="end" fill="#111" stroke="#111" stroke-width="0.18">80<tspan fill="#333" stroke-width="0.15">%</tspan></text>
<line x1="298.40" y1="219.16" x2="300.40" y2="219.16" stroke="#000" stroke-width="1.0"/>
<text x="297.10" y="221.66" font-size="7.9" text-anchor="end" fill="#111" stroke="#111" stroke-width="0.18">60<tspan fill="#333" stroke-width="0.15">%</tspan></text>
<line x1="298.40" y1="235.94" x2="300.40" y2="235.94" stroke="#000" stroke-width="1.0"/>
<text x="297.10" y="238.44" font-size="7.9" text-anchor="end" fill="#111" stroke="#111" stroke-width="0.18">40<tspan fill="#333" stroke-width="0.15">%</tspan></text>
<line x1="298.40" y1="252.72" x2="300.40" y2="252.72" stroke="#000" stroke-width="1.0"/>
<text x="297.10" y="255.22" font-size="7.9" text-anchor="end" fill="#111" stroke="#111" stroke-width="0.18">20<tspan fill="#333" stroke-width="0.15">%</tspan></text>
<line x1="298.40" y1="269.50" x2="300.40" y2="269.50" stroke="#000" stroke-width="1.0"/>
<text x="297.10" y="272.00" font-size="7.9" text-anchor="end" fill="#111" stroke="#111" stroke-width="0.18">0<tspan fill="#333" stroke-width="0.15">%</tspan></text>
<line x1="300.40" y1="269.50" x2="300.40" y2="271.10" stroke="#000" stroke-width="1.0"/>
<text x="300.40" y="278.80" font-size="7.9" text-anchor="middle" font-weight="normal" fill="#111" stroke="#111" stroke-width="0.18">0</text>
<line x1="321.23" y1="269.50" x2="321.23" y2="271.10" stroke="#000" stroke-width="1.0"/>
<text x="320.85" y="278.80" font-size="7.9" text-anchor="middle" font-weight="normal" fill="#111" stroke="#111" stroke-width="0.18">24</text>
<line x1="342.06" y1="269.50" x2="342.06" y2="271.10" stroke="#000" stroke-width="1.0"/>
<text x="341.30" y="278.80" font-size="7.9" text-anchor="middle" font-weight="normal" fill="#111" stroke="#111" stroke-width="0.18">48</text>
<line x1="362.89" y1="269.50" x2="362.89" y2="271.10" stroke="#000" stroke-width="1.0"/>
<text x="361.75" y="278.80" font-size="7.9" text-anchor="middle" font-weight="normal" fill="#111" stroke="#111" stroke-width="0.18">72</text>
<line x1="383.72" y1="269.50" x2="383.72" y2="271.10" stroke="#000" stroke-width="1.0"/>
<text x="382.20" y="278.80" font-size="7.9" text-anchor="middle" font-weight="normal" fill="#111" stroke="#111" stroke-width="0.18">96</text>
<line x1="404.55" y1="269.50" x2="404.55" y2="271.10" stroke="#000" stroke-width="1.0"/>
<text x="402.65" y="278.80" font-size="7.9" text-anchor="middle" font-weight="normal" fill="#111" stroke="#111" stroke-width="0.18">120</text>
<line x1="425.38" y1="269.50" x2="425.38" y2="271.10" stroke="#000" stroke-width="1.0"/>
<text x="423.10" y="278.80" font-size="7.9" text-anchor="middle" font-weight="normal" fill="#111" stroke="#111" stroke-width="0.18">144</text>
<line x1="446.21" y1="269.50" x2="446.21" y2="271.10" stroke="#000" stroke-width="1.0"/>
<text x="443.55" y="278.80" font-size="7.9" text-anchor="middle" font-weight="normal" fill="#111" stroke="#111" stroke-width="0.18">168</text>
<line x1="467.04" y1="269.50" x2="467.04" y2="271.10" stroke="#000" stroke-width="1.0"/>
<text x="464.00" y="278.80" font-size="7.9" text-anchor="middle" font-weight="normal" fill="#111" stroke="#111" stroke-width="0.18">192</text>
<line x1="487.87" y1="269.50" x2="487.87" y2="271.10" stroke="#000" stroke-width="1.0"/>
<text x="484.45" y="278.80" font-size="7.9" text-anchor="middle" font-weight="normal" fill="#111" stroke="#111" stroke-width="0.18">216</text>
<line x1="508.70" y1="269.50" x2="508.70" y2="271.10" stroke="#000" stroke-width="1.0"/>
<text x="504.90" y="278.80" font-size="7.9" text-anchor="middle" font-weight="normal" fill="#111" stroke="#111" stroke-width="0.18">240</text>
<text x="404.60" y="290.80" font-size="8.3" text-anchor="middle" font-weight="normal" fill="#111" textLength="41.0" lengthAdjust="spacingAndGlyphs" stroke="#111" stroke-width="0.3">Time (months)</text>
<g transform="translate(274.00,231.10) rotate(-90)">
<text x="0.00" y="0.00" font-size="7.4" text-anchor="middle" font-weight="normal" fill="#111" textLength="59.5" lengthAdjust="spacingAndGlyphs" stroke="#111" stroke-width="0.25">Relapse-free survival</text>
</g>
<line x1="395.10" y1="190.10" x2="406.80" y2="190.10" stroke="#0a2ea6" stroke-width="2.0"/>
<line x1="395.10" y1="198.60" x2="406.80" y2="198.60" stroke="#c80010" stroke-width="2.0"/>
<text x="410.20" y="192.50" font-size="7.1" text-anchor="start" font-weight="normal" fill="#111" textLength="25.5" lengthAdjust="spacingAndGlyphs" stroke="#111" stroke-width="0.08">&lt;60 y.o.</text>
<text x="410.20" y="201.00" font-size="7.1" text-anchor="start" font-weight="normal" fill="#111" textLength="25.5" lengthAdjust="spacingAndGlyphs" stroke="#111" stroke-width="0.08">&gt;60 y.o.</text>
<text x="397.80" y="210.20" font-size="7.1" text-anchor="start" font-weight="normal" fill="#111" stroke="#111" stroke-width="0.08">P &lt; 0.01</text>
<text x="303.80" y="298.00" font-size="8.8" text-anchor="start" font-weight="normal" fill="#111" textLength="42" lengthAdjust="spacingAndGlyphs" stroke="#111" stroke-width="0.35">Number at risk</text>
<line x1="289.70" y1="305.10" x2="301.90" y2="305.10" stroke="#0a2ea6" stroke-width="2.0"/>
<line x1="289.70" y1="313.20" x2="301.90" y2="313.20" stroke="#c80010" stroke-width="2.0"/>
<text x="308.50" y="308.20" font-size="8.0" text-anchor="middle" font-weight="normal" fill="#111" stroke="#111" stroke-width="0.15">52</text>
<text x="308.50" y="315.80" font-size="8.0" text-anchor="middle" font-weight="normal" fill="#111" stroke="#111" stroke-width="0.15">10</text>
<text x="328.10" y="308.20" font-size="8.0" text-anchor="middle" font-weight="normal" fill="#111" stroke="#111" stroke-width="0.15">38</text>
<text x="330.30" y="315.80" font-size="8.0" text-anchor="middle" font-weight="normal" fill="#111" stroke="#111" stroke-width="0.15">6</text>
<text x="347.60" y="308.20" font-size="8.0" text-anchor="middle" font-weight="normal" fill="#111" stroke="#111" stroke-width="0.15">35</text>
<text x="349.70" y="315.80" font-size="8.0" text-anchor="middle" font-weight="normal" fill="#111" stroke="#111" stroke-width="0.15">6</text>
<text x="367.30" y="308.20" font-size="8.0" text-anchor="middle" font-weight="normal" fill="#111" stroke="#111" stroke-width="0.15">29</text>
<text x="367.30" y="315.80" font-size="8.0" text-anchor="middle" font-weight="normal" fill="#111" stroke="#111" stroke-width="0.15">6</text>
<text x="387.20" y="308.20" font-size="8.0" text-anchor="middle" font-weight="normal" fill="#111" stroke="#111" stroke-width="0.15">22</text>
<text x="387.20" y="315.80" font-size="8.0" text-anchor="middle" font-weight="normal" fill="#111" stroke="#111" stroke-width="0.15">6</text>
<text x="406.80" y="308.20" font-size="8.0" text-anchor="middle" font-weight="normal" fill="#111" stroke="#111" stroke-width="0.15">18</text>
<text x="406.80" y="315.80" font-size="8.0" text-anchor="middle" font-weight="normal" fill="#111" stroke="#111" stroke-width="0.15">4</text>
<text x="426.10" y="308.20" font-size="8.0" text-anchor="middle" font-weight="normal" fill="#111" stroke="#111" stroke-width="0.15">14</text>
<text x="426.10" y="315.80" font-size="8.0" text-anchor="middle" font-weight="normal" fill="#111" stroke="#111" stroke-width="0.15">3</text>
<text x="446.50" y="308.20" font-size="8.0" text-anchor="middle" font-weight="normal" fill="#111" stroke="#111" stroke-width="0.15">7</text>
<text x="446.50" y="315.80" font-size="8.0" text-anchor="middle" font-weight="normal" fill="#111" stroke="#111" stroke-width="0.15">2</text>
<text x="465.80" y="308.20" font-size="8.0" text-anchor="middle" font-weight="normal" fill="#111" stroke="#111" stroke-width="0.15">2</text>
<text x="465.80" y="315.80" font-size="8.0" text-anchor="middle" font-weight="normal" fill="#111" stroke="#111" stroke-width="0.15">0</text>
<text x="485.80" y="308.20" font-size="8.0" text-anchor="middle" font-weight="normal" fill="#111" stroke="#111" stroke-width="0.15">1</text>
<text x="485.80" y="315.80" font-size="8.0" text-anchor="middle" font-weight="normal" fill="#111" stroke="#111" stroke-width="0.15">0</text>
<text x="504.80" y="308.20" font-size="8.0" text-anchor="middle" font-weight="normal" fill="#111" stroke="#111" stroke-width="0.15">0</text>
<text x="504.80" y="315.80" font-size="8.0" text-anchor="middle" font-weight="normal" fill="#111" stroke="#111" stroke-width="0.15">0</text>
<path d="M300.9,187.3 L301.8,188.3 L303.8,189.2 L304.7,190.2 L305.7,192.6 L306.2,196.4 L306.7,201.2 L307.1,205.6 L307.6,207.5 H335.5 V209.6 H343.5 V211.9 H346.7 V214.2 H359.5 V216.5 H363.5 V219.6 H403.5 V221.5 H414 V224.9 H488.5" fill="none" stroke="#0a2ea6" stroke-width="1.35" stroke-linejoin="miter"/>
<line x1="321.10" y1="205.30" x2="321.10" y2="209.70" stroke="#0a2ea6" stroke-width="1.25"/>
<line x1="323.20" y1="205.30" x2="323.20" y2="209.70" stroke="#0a2ea6" stroke-width="1.25"/>
<line x1="353.10" y1="212.00" x2="353.10" y2="216.40" stroke="#0a2ea6" stroke-width="1.25"/>
<line x1="360.50" y1="214.30" x2="360.50" y2="218.70" stroke="#0a2ea6" stroke-width="1.25"/>
<line x1="367.90" y1="217.40" x2="367.90" y2="221.80" stroke="#0a2ea6" stroke-width="1.25"/>
<line x1="369.20" y1="217.40" x2="369.20" y2="221.80" stroke="#0a2ea6" stroke-width="1.25"/>
<line x1="372.70" y1="217.40" x2="372.70" y2="221.80" stroke="#0a2ea6" stroke-width="1.25"/>
<line x1="377.50" y1="217.40" x2="377.50" y2="221.80" stroke="#0a2ea6" stroke-width="1.25"/>
<line x1="382.70" y1="217.40" x2="382.70" y2="221.80" stroke="#0a2ea6" stroke-width="1.25"/>
<line x1="389.00" y1="217.40" x2="389.00" y2="221.80" stroke="#0a2ea6" stroke-width="1.25"/>
<line x1="398.70" y1="217.40" x2="398.70" y2="221.80" stroke="#0a2ea6" stroke-width="1.25"/>
<line x1="402.50" y1="217.40" x2="402.50" y2="221.80" stroke="#0a2ea6" stroke-width="1.25"/>
<line x1="413.00" y1="219.30" x2="413.00" y2="223.70" stroke="#0a2ea6" stroke-width="1.25"/>
<line x1="427.70" y1="222.70" x2="427.70" y2="227.10" stroke="#0a2ea6" stroke-width="1.25"/>
<line x1="430.00" y1="222.70" x2="430.00" y2="227.10" stroke="#0a2ea6" stroke-width="1.25"/>
<line x1="432.30" y1="222.70" x2="432.30" y2="227.10" stroke="#0a2ea6" stroke-width="1.25"/>
<line x1="434.60" y1="222.70" x2="434.60" y2="227.10" stroke="#0a2ea6" stroke-width="1.25"/>
<line x1="436.90" y1="222.70" x2="436.90" y2="227.10" stroke="#0a2ea6" stroke-width="1.25"/>
<line x1="444.60" y1="222.70" x2="444.60" y2="227.10" stroke="#0a2ea6" stroke-width="1.25"/>
<line x1="446.50" y1="222.70" x2="446.50" y2="227.10" stroke="#0a2ea6" stroke-width="1.25"/>
<line x1="448.20" y1="222.70" x2="448.20" y2="227.10" stroke="#0a2ea6" stroke-width="1.25"/>
<line x1="450.00" y1="222.70" x2="450.00" y2="227.10" stroke="#0a2ea6" stroke-width="1.25"/>
<line x1="459.70" y1="222.70" x2="459.70" y2="227.10" stroke="#0a2ea6" stroke-width="1.25"/>
<line x1="465.40" y1="222.70" x2="465.40" y2="227.10" stroke="#0a2ea6" stroke-width="1.25"/>
<line x1="488.50" y1="222.70" x2="488.50" y2="227.10" stroke="#0a2ea6" stroke-width="1.25"/>
<path d="M301.4,185.4 H302.3 V200.3 L304.3,200.8 L304.7,205.6 L305.7,206 V210.8 L307.1,211.3 L307.6,217.6 H310 V231.5 L318.7,232 V236.3 H383.3 V242.1 H406.9 V249 H438.2 V255.4 H450.8 V269.4" fill="none" stroke="#c80010" stroke-width="1.35" stroke-linejoin="miter"/>
<line x1="387.70" y1="239.90" x2="387.70" y2="244.30" stroke="#c80010" stroke-width="1.25"/>
<line x1="443.40" y1="253.20" x2="443.40" y2="257.60" stroke="#c80010" stroke-width="1.25"/>
<text x="7.50" y="336.50" font-size="10.8" text-anchor="start" font-weight="bold" fill="#000" stroke="#000" stroke-width="0.35">E</text>
<line x1="40.80" y1="342.30" x2="40.80" y2="431.15" stroke="#000" stroke-width="1.5"/>
<line x1="40.05" y1="430.40" x2="253.40" y2="430.40" stroke="#000" stroke-width="1.5"/>
<line x1="38.80" y1="346.20" x2="40.80" y2="346.20" stroke="#000" stroke-width="1.0"/>
<text x="37.50" y="348.70" font-size="7.9" text-anchor="end" fill="#111" stroke="#111" stroke-width="0.18">100<tspan fill="#333" stroke-width="0.15">%</tspan></text>
<line x1="38.80" y1="363.04" x2="40.80" y2="363.04" stroke="#000" stroke-width="1.0"/>
<text x="37.50" y="365.54" font-size="7.9" text-anchor="end" fill="#111" stroke="#111" stroke-width="0.18">80<tspan fill="#333" stroke-width="0.15">%</tspan></text>
<line x1="38.80" y1="379.88" x2="40.80" y2="379.88" stroke="#000" stroke-width="1.0"/>
<text x="37.50" y="382.38" font-size="7.9" text-anchor="end" fill="#111" stroke="#111" stroke-width="0.18">60<tspan fill="#333" stroke-width="0.15">%</tspan></text>
<line x1="38.80" y1="396.72" x2="40.80" y2="396.72" stroke="#000" stroke-width="1.0"/>
<text x="37.50" y="399.22" font-size="7.9" text-anchor="end" fill="#111" stroke="#111" stroke-width="0.18">40<tspan fill="#333" stroke-width="0.15">%</tspan></text>
<line x1="38.80" y1="413.56" x2="40.80" y2="413.56" stroke="#000" stroke-width="1.0"/>
<text x="37.50" y="416.06" font-size="7.9" text-anchor="end" fill="#111" stroke="#111" stroke-width="0.18">20<tspan fill="#333" stroke-width="0.15">%</tspan></text>
<line x1="38.80" y1="430.40" x2="40.80" y2="430.40" stroke="#000" stroke-width="1.0"/>
<text x="37.50" y="432.90" font-size="7.9" text-anchor="end" fill="#111" stroke="#111" stroke-width="0.18">0<tspan fill="#333" stroke-width="0.15">%</tspan></text>
<line x1="40.80" y1="430.40" x2="40.80" y2="432.00" stroke="#000" stroke-width="1.0"/>
<text x="40.80" y="441.60" font-size="7.9" text-anchor="middle" font-weight="normal" fill="#111" stroke="#111" stroke-width="0.18">0</text>
<line x1="61.63" y1="430.40" x2="61.63" y2="432.00" stroke="#000" stroke-width="1.0"/>
<text x="61.25" y="441.60" font-size="7.9" text-anchor="middle" font-weight="normal" fill="#111" stroke="#111" stroke-width="0.18">24</text>
<line x1="82.46" y1="430.40" x2="82.46" y2="432.00" stroke="#000" stroke-width="1.0"/>
<text x="81.70" y="441.60" font-size="7.9" text-anchor="middle" font-weight="normal" fill="#111" stroke="#111" stroke-width="0.18">48</text>
<line x1="103.29" y1="430.40" x2="103.29" y2="432.00" stroke="#000" stroke-width="1.0"/>
<text x="102.15" y="441.60" font-size="7.9" text-anchor="middle" font-weight="normal" fill="#111" stroke="#111" stroke-width="0.18">72</text>
<line x1="124.12" y1="430.40" x2="124.12" y2="432.00" stroke="#000" stroke-width="1.0"/>
<text x="122.60" y="441.60" font-size="7.9" text-anchor="middle" font-weight="normal" fill="#111" stroke="#111" stroke-width="0.18">96</text>
<line x1="144.95" y1="430.40" x2="144.95" y2="432.00" stroke="#000" stroke-width="1.0"/>
<text x="143.05" y="441.60" font-size="7.9" text-anchor="middle" font-weight="normal" fill="#111" stroke="#111" stroke-width="0.18">120</text>
<line x1="165.78" y1="430.40" x2="165.78" y2="432.00" stroke="#000" stroke-width="1.0"/>
<text x="163.50" y="441.60" font-size="7.9" text-anchor="middle" font-weight="normal" fill="#111" stroke="#111" stroke-width="0.18">144</text>
<line x1="186.61" y1="430.40" x2="186.61" y2="432.00" stroke="#000" stroke-width="1.0"/>
<text x="183.95" y="441.60" font-size="7.9" text-anchor="middle" font-weight="normal" fill="#111" stroke="#111" stroke-width="0.18">168</text>
<line x1="207.44" y1="430.40" x2="207.44" y2="432.00" stroke="#000" stroke-width="1.0"/>
<text x="204.40" y="441.60" font-size="7.9" text-anchor="middle" font-weight="normal" fill="#111" stroke="#111" stroke-width="0.18">192</text>
<line x1="228.27" y1="430.40" x2="228.27" y2="432.00" stroke="#000" stroke-width="1.0"/>
<text x="224.85" y="441.60" font-size="7.9" text-anchor="middle" font-weight="normal" fill="#111" stroke="#111" stroke-width="0.18">216</text>
<line x1="249.10" y1="430.40" x2="249.10" y2="432.00" stroke="#000" stroke-width="1.0"/>
<text x="245.30" y="441.60" font-size="7.9" text-anchor="middle" font-weight="normal" fill="#111" stroke="#111" stroke-width="0.18">240</text>
<text x="145.30" y="451.80" font-size="8.3" text-anchor="middle" font-weight="normal" fill="#111" textLength="41.0" lengthAdjust="spacingAndGlyphs" stroke="#111" stroke-width="0.3">Time (months)</text>
<g transform="translate(16.60,386.60) rotate(-90)">
<text x="0.00" y="0.00" font-size="8.6" text-anchor="middle" font-weight="normal" fill="#111" textLength="42.0" lengthAdjust="spacingAndGlyphs" stroke="#111" stroke-width="0.45">Overall survival</text>
</g>
<line x1="140.10" y1="346.50" x2="151.80" y2="346.50" stroke="#0a2ea6" stroke-width="2.0"/>
<line x1="140.10" y1="353.90" x2="151.80" y2="353.90" stroke="#c80010" stroke-width="2.0"/>
<text x="154.30" y="348.90" font-size="7.1" text-anchor="start" font-weight="normal" fill="#111" textLength="69.8" lengthAdjust="spacingAndGlyphs" stroke="#111" stroke-width="0.08">No CNS disease at Dx</text>
<text x="154.30" y="356.30" font-size="7.1" text-anchor="start" font-weight="normal" fill="#111" textLength="58.6" lengthAdjust="spacingAndGlyphs" stroke="#111" stroke-width="0.08">CNS disease at Dx</text>
<text x="139.50" y="367.20" font-size="7.1" text-anchor="start" font-weight="normal" fill="#111" stroke="#111" stroke-width="0.08">P &lt; 0.01</text>
<text x="48.20" y="458.70" font-size="8.8" text-anchor="start" font-weight="normal" fill="#111" textLength="42" lengthAdjust="spacingAndGlyphs" stroke="#111" stroke-width="0.35">Number at risk</text>
<line x1="32.00" y1="466.50" x2="43.60" y2="466.50" stroke="#0a2ea6" stroke-width="2.0"/>
<line x1="32.00" y1="473.90" x2="43.60" y2="473.90" stroke="#c80010" stroke-width="2.0"/>
<text x="50.60" y="469.30" font-size="8.0" text-anchor="middle" font-weight="normal" fill="#111" stroke="#111" stroke-width="0.15">67</text>
<text x="50.60" y="476.60" font-size="8.0" text-anchor="middle" font-weight="normal" fill="#111" stroke="#111" stroke-width="0.15">22</text>
<text x="70.70" y="469.30" font-size="8.0" text-anchor="middle" font-weight="normal" fill="#111" stroke="#111" stroke-width="0.15">40</text>
<text x="72.20" y="476.60" font-size="8.0" text-anchor="middle" font-weight="normal" fill="#111" stroke="#111" stroke-width="0.15">6</text>
<text x="90.30" y="469.30" font-size="8.0" text-anchor="middle" font-weight="normal" fill="#111" stroke="#111" stroke-width="0.15">36</text>
<text x="91.80" y="476.60" font-size="8.0" text-anchor="middle" font-weight="normal" fill="#111" stroke="#111" stroke-width="0.15">5</text>
<text x="109.40" y="469.30" font-size="8.0" text-anchor="middle" font-weight="normal" fill="#111" stroke="#111" stroke-width="0.15">31</text>
<text x="109.40" y="476.60" font-size="8.0" text-anchor="middle" font-weight="normal" fill="#111" stroke="#111" stroke-width="0.15">4</text>
<text x="129.30" y="469.30" font-size="8.0" text-anchor="middle" font-weight="normal" fill="#111" stroke="#111" stroke-width="0.15">25</text>
<text x="129.30" y="476.60" font-size="8.0" text-anchor="middle" font-weight="normal" fill="#111" stroke="#111" stroke-width="0.15">4</text>
<text x="149.10" y="469.30" font-size="8.0" text-anchor="middle" font-weight="normal" fill="#111" stroke="#111" stroke-width="0.15">21</text>
<text x="149.10" y="476.60" font-size="8.0" text-anchor="middle" font-weight="normal" fill="#111" stroke="#111" stroke-width="0.15">3</text>
<text x="168.40" y="469.30" font-size="8.0" text-anchor="middle" font-weight="normal" fill="#111" stroke="#111" stroke-width="0.15">15</text>
<text x="168.40" y="476.60" font-size="8.0" text-anchor="middle" font-weight="normal" fill="#111" stroke="#111" stroke-width="0.15">2</text>
<text x="188.10" y="469.30" font-size="8.0" text-anchor="middle" font-weight="normal" fill="#111" stroke="#111" stroke-width="0.15">9</text>
<text x="188.10" y="476.60" font-size="8.0" text-anchor="middle" font-weight="normal" fill="#111" stroke="#111" stroke-width="0.15">1</text>
<text x="208.10" y="469.30" font-size="8.0" text-anchor="middle" font-weight="normal" fill="#111" stroke="#111" stroke-width="0.15">2</text>
<text x="208.10" y="476.60" font-size="8.0" text-anchor="middle" font-weight="normal" fill="#111" stroke="#111" stroke-width="0.15">0</text>
<text x="228.00" y="469.30" font-size="8.0" text-anchor="middle" font-weight="normal" fill="#111" stroke="#111" stroke-width="0.15">1</text>
<text x="228.00" y="476.60" font-size="8.0" text-anchor="middle" font-weight="normal" fill="#111" stroke="#111" stroke-width="0.15">0</text>
<text x="248.50" y="469.30" font-size="8.0" text-anchor="middle" font-weight="normal" fill="#111" stroke="#111" stroke-width="0.15">0</text>
<text x="248.50" y="476.60" font-size="8.0" text-anchor="middle" font-weight="normal" fill="#111" stroke="#111" stroke-width="0.15">0</text>
<path d="M41.2,350.8 L42.4,351.5 L43.7,352.7 L46.2,353.4 L46.8,355.9 L48.1,358.4 L48.7,362.2 H52.5 V366.6 L55,367.2 L55.7,369.1 L58.2,369.8 L58.8,371 L60.7,371.7 L62,372.9 H80.9 L81.6,374.4 L84.1,375.5 L84.7,376.4 H91.2 V378.1 H94.6 V380 H102.3 V381.3 H125.5 V383.7 H145.6 V386.2 H149 V388.1 H156.3 V390.5 H179.6 V394.6 H229.2" fill="none" stroke="#0a2ea6" stroke-width="1.35" stroke-linejoin="miter"/>
<line x1="62.00" y1="370.70" x2="62.00" y2="375.10" stroke="#0a2ea6" stroke-width="1.25"/>
<line x1="81.60" y1="371.30" x2="81.60" y2="375.70" stroke="#0a2ea6" stroke-width="1.25"/>
<line x1="102.70" y1="379.10" x2="102.70" y2="383.50" stroke="#0a2ea6" stroke-width="1.25"/>
<line x1="108.80" y1="379.10" x2="108.80" y2="383.50" stroke="#0a2ea6" stroke-width="1.25"/>
<line x1="111.70" y1="379.10" x2="111.70" y2="383.50" stroke="#0a2ea6" stroke-width="1.25"/>
<line x1="118.50" y1="379.10" x2="118.50" y2="383.50" stroke="#0a2ea6" stroke-width="1.25"/>
<line x1="120.40" y1="379.10" x2="120.40" y2="383.50" stroke="#0a2ea6" stroke-width="1.25"/>
<line x1="121.90" y1="379.10" x2="121.90" y2="383.50" stroke="#0a2ea6" stroke-width="1.25"/>
<line x1="129.60" y1="381.50" x2="129.60" y2="385.90" stroke="#0a2ea6" stroke-width="1.25"/>
<line x1="139.20" y1="381.50" x2="139.20" y2="385.90" stroke="#0a2ea6" stroke-width="1.25"/>
<line x1="141.20" y1="381.50" x2="141.20" y2="385.90" stroke="#0a2ea6" stroke-width="1.25"/>
<line x1="143.10" y1="381.50" x2="143.10" y2="385.90" stroke="#0a2ea6" stroke-width="1.25"/>
<line x1="156.00" y1="385.90" x2="156.00" y2="390.30" stroke="#0a2ea6" stroke-width="1.25"/>
<line x1="164.20" y1="388.30" x2="164.20" y2="392.70" stroke="#0a2ea6" stroke-width="1.25"/>
<line x1="171.70" y1="388.30" x2="171.70" y2="392.70" stroke="#0a2ea6" stroke-width="1.25"/>
<line x1="174.40" y1="388.30" x2="174.40" y2="392.70" stroke="#0a2ea6" stroke-width="1.25"/>
<line x1="176.20" y1="388.30" x2="176.20" y2="392.70" stroke="#0a2ea6" stroke-width="1.25"/>
<line x1="177.40" y1="388.30" x2="177.40" y2="392.70" stroke="#0a2ea6" stroke-width="1.25"/>
<line x1="178.50" y1="388.30" x2="178.50" y2="392.70" stroke="#0a2ea6" stroke-width="1.25"/>
<line x1="182.30" y1="392.40" x2="182.30" y2="396.80" stroke="#0a2ea6" stroke-width="1.25"/>
<line x1="183.80" y1="392.40" x2="183.80" y2="396.80" stroke="#0a2ea6" stroke-width="1.25"/>
<line x1="186.20" y1="392.40" x2="186.20" y2="396.80" stroke="#0a2ea6" stroke-width="1.25"/>
<line x1="190.50" y1="392.40" x2="190.50" y2="396.80" stroke="#0a2ea6" stroke-width="1.25"/>
<line x1="192.60" y1="392.40" x2="192.60" y2="396.80" stroke="#0a2ea6" stroke-width="1.25"/>
<line x1="198.50" y1="392.40" x2="198.50" y2="396.80" stroke="#0a2ea6" stroke-width="1.25"/>
<line x1="204.30" y1="392.40" x2="204.30" y2="396.80" stroke="#0a2ea6" stroke-width="1.25"/>
<line x1="209.20" y1="392.40" x2="209.20" y2="396.80" stroke="#0a2ea6" stroke-width="1.25"/>
<line x1="229.20" y1="392.40" x2="229.20" y2="396.80" stroke="#0a2ea6" stroke-width="1.25"/>
<path d="M41.8,345.8 L43.1,346.4 V354 L43.7,354.6 V362.2 L44.9,362.8 V372.3 L45.6,378 L46.8,378.6 L47.5,389.3 L49.4,390 L50,393.1 L51.3,393.8 L51.9,397.6 L53.2,398.2 V403.9 H58.2 V407.9 H76.5 V410.8 H192.3 V430.4" fill="none" stroke="#c80010" stroke-width="1.35" stroke-linejoin="miter"/>
<line x1="97.90" y1="408.60" x2="97.90" y2="413.00" stroke="#c80010" stroke-width="1.25"/>
<line x1="129.60" y1="408.60" x2="129.60" y2="413.00" stroke="#c80010" stroke-width="1.25"/>
<line x1="167.60" y1="408.60" x2="167.60" y2="413.00" stroke="#c80010" stroke-width="1.25"/>
<text x="267.50" y="336.50" font-size="10.8" text-anchor="start" font-weight="bold" fill="#000" stroke="#000" stroke-width="0.35">F</text>
<line x1="300.40" y1="342.50" x2="300.40" y2="431.15" stroke="#000" stroke-width="1.5"/>
<line x1="299.65" y1="430.40" x2="513.00" y2="430.40" stroke="#000" stroke-width="1.5"/>
<line x1="298.40" y1="346.40" x2="300.40" y2="346.40" stroke="#000" stroke-width="1.0"/>
<text x="297.10" y="348.90" font-size="7.9" text-anchor="end" fill="#111" stroke="#111" stroke-width="0.18">100<tspan fill="#333" stroke-width="0.15">%</tspan></text>
<line x1="298.40" y1="363.20" x2="300.40" y2="363.20" stroke="#000" stroke-width="1.0"/>
<text x="297.10" y="365.70" font-size="7.9" text-anchor="end" fill="#111" stroke="#111" stroke-width="0.18">80<tspan fill="#333" stroke-width="0.15">%</tspan></text>
<line x1="298.40" y1="380.00" x2="300.40" y2="380.00" stroke="#000" stroke-width="1.0"/>
<text x="297.10" y="382.50" font-size="7.9" text-anchor="end" fill="#111" stroke="#111" stroke-width="0.18">60<tspan fill="#333" stroke-width="0.15">%</tspan></text>
<line x1="298.40" y1="396.80" x2="300.40" y2="396.80" stroke="#000" stroke-width="1.0"/>
<text x="297.10" y="399.30" font-size="7.9" text-anchor="end" fill="#111" stroke="#111" stroke-width="0.18">40<tspan fill="#333" stroke-width="0.15">%</tspan></text>
<line x1="298.40" y1="413.60" x2="300.40" y2="413.60" stroke="#000" stroke-width="1.0"/>
<text x="297.10" y="416.10" font-size="7.9" text-anchor="end" fill="#111" stroke="#111" stroke-width="0.18">20<tspan fill="#333" stroke-width="0.15">%</tspan></text>
<line x1="298.40" y1="430.40" x2="300.40" y2="430.40" stroke="#000" stroke-width="1.0"/>
<text x="297.10" y="432.90" font-size="7.9" text-anchor="end" fill="#111" stroke="#111" stroke-width="0.18">0<tspan fill="#333" stroke-width="0.15">%</tspan></text>
<line x1="300.40" y1="430.40" x2="300.40" y2="432.00" stroke="#000" stroke-width="1.0"/>
<text x="300.40" y="441.60" font-size="7.9" text-anchor="middle" font-weight="normal" fill="#111" stroke="#111" stroke-width="0.18">0</text>
<line x1="321.23" y1="430.40" x2="321.23" y2="432.00" stroke="#000" stroke-width="1.0"/>
<text x="320.85" y="441.60" font-size="7.9" text-anchor="middle" font-weight="normal" fill="#111" stroke="#111" stroke-width="0.18">24</text>
<line x1="342.06" y1="430.40" x2="342.06" y2="432.00" stroke="#000" stroke-width="1.0"/>
<text x="341.30" y="441.60" font-size="7.9" text-anchor="middle" font-weight="normal" fill="#111" stroke="#111" stroke-width="0.18">48</text>
<line x1="362.89" y1="430.40" x2="362.89" y2="432.00" stroke="#000" stroke-width="1.0"/>
<text x="361.75" y="441.60" font-size="7.9" text-anchor="middle" font-weight="normal" fill="#111" stroke="#111" stroke-width="0.18">72</text>
<line x1="383.72" y1="430.40" x2="383.72" y2="432.00" stroke="#000" stroke-width="1.0"/>
<text x="382.20" y="441.60" font-size="7.9" text-anchor="middle" font-weight="normal" fill="#111" stroke="#111" stroke-width="0.18">96</text>
<line x1="404.55" y1="430.40" x2="404.55" y2="432.00" stroke="#000" stroke-width="1.0"/>
<text x="402.65" y="441.60" font-size="7.9" text-anchor="middle" font-weight="normal" fill="#111" stroke="#111" stroke-width="0.18">120</text>
<line x1="425.38" y1="430.40" x2="425.38" y2="432.00" stroke="#000" stroke-width="1.0"/>
<text x="423.10" y="441.60" font-size="7.9" text-anchor="middle" font-weight="normal" fill="#111" stroke="#111" stroke-width="0.18">144</text>
<line x1="446.21" y1="430.40" x2="446.21" y2="432.00" stroke="#000" stroke-width="1.0"/>
<text x="443.55" y="441.60" font-size="7.9" text-anchor="middle" font-weight="normal" fill="#111" stroke="#111" stroke-width="0.18">168</text>
<line x1="467.04" y1="430.40" x2="467.04" y2="432.00" stroke="#000" stroke-width="1.0"/>
<text x="464.00" y="441.60" font-size="7.9" text-anchor="middle" font-weight="normal" fill="#111" stroke="#111" stroke-width="0.18">192</text>
<line x1="487.87" y1="430.40" x2="487.87" y2="432.00" stroke="#000" stroke-width="1.0"/>
<text x="484.45" y="441.60" font-size="7.9" text-anchor="middle" font-weight="normal" fill="#111" stroke="#111" stroke-width="0.18">216</text>
<line x1="508.70" y1="430.40" x2="508.70" y2="432.00" stroke="#000" stroke-width="1.0"/>
<text x="504.90" y="441.60" font-size="7.9" text-anchor="middle" font-weight="normal" fill="#111" stroke="#111" stroke-width="0.18">240</text>
<text x="405.00" y="451.80" font-size="8.3" text-anchor="middle" font-weight="normal" fill="#111" textLength="41.0" lengthAdjust="spacingAndGlyphs" stroke="#111" stroke-width="0.3">Time (months)</text>
<g transform="translate(274.80,392.40) rotate(-90)">
<text x="0.00" y="0.00" font-size="5.2" text-anchor="middle" font-weight="normal" fill="#111" textLength="49.4" lengthAdjust="spacingAndGlyphs" stroke="#111" stroke-width="0.12">Relapse-free survival</text>
</g>
<line x1="391.60" y1="346.50" x2="402.80" y2="346.50" stroke="#0a2ea6" stroke-width="2.0"/>
<line x1="391.60" y1="353.90" x2="402.80" y2="353.90" stroke="#c80010" stroke-width="2.0"/>
<text x="406.40" y="348.90" font-size="7.1" text-anchor="start" font-weight="normal" fill="#111" textLength="69.8" lengthAdjust="spacingAndGlyphs" stroke="#111" stroke-width="0.08">No CNS disease at Dx</text>
<text x="406.40" y="356.30" font-size="7.1" text-anchor="start" font-weight="normal" fill="#111" textLength="58.6" lengthAdjust="spacingAndGlyphs" stroke="#111" stroke-width="0.08">CNS disease at Dx</text>
<text x="393.10" y="367.20" font-size="7.1" text-anchor="start" font-weight="normal" fill="#111" stroke="#111" stroke-width="0.08">P &lt; 0.01</text>
<text x="303.80" y="458.70" font-size="8.8" text-anchor="start" font-weight="normal" fill="#111" textLength="42" lengthAdjust="spacingAndGlyphs" stroke="#111" stroke-width="0.35">Number at risk</text>
<line x1="289.70" y1="466.50" x2="301.90" y2="466.50" stroke="#0a2ea6" stroke-width="2.0"/>
<line x1="289.70" y1="473.90" x2="301.90" y2="473.90" stroke="#c80010" stroke-width="2.0"/>
<text x="308.00" y="469.30" font-size="8.0" text-anchor="middle" font-weight="normal" fill="#111" stroke="#111" stroke-width="0.15">49</text>
<text x="308.00" y="476.60" font-size="8.0" text-anchor="middle" font-weight="normal" fill="#111" stroke="#111" stroke-width="0.15">19</text>
<text x="328.10" y="469.30" font-size="8.0" text-anchor="middle" font-weight="normal" fill="#111" stroke="#111" stroke-width="0.15">38</text>
<text x="330.30" y="476.60" font-size="8.0" text-anchor="middle" font-weight="normal" fill="#111" stroke="#111" stroke-width="0.15">6</text>
<text x="348.20" y="469.30" font-size="8.0" text-anchor="middle" font-weight="normal" fill="#111" stroke="#111" stroke-width="0.15">36</text>
<text x="349.70" y="476.60" font-size="8.0" text-anchor="middle" font-weight="normal" fill="#111" stroke="#111" stroke-width="0.15">6</text>
<text x="367.30" y="469.30" font-size="8.0" text-anchor="middle" font-weight="normal" fill="#111" stroke="#111" stroke-width="0.15">31</text>
<text x="367.30" y="476.60" font-size="8.0" text-anchor="middle" font-weight="normal" fill="#111" stroke="#111" stroke-width="0.15">4</text>
<text x="387.20" y="469.30" font-size="8.0" text-anchor="middle" font-weight="normal" fill="#111" stroke="#111" stroke-width="0.15">25</text>
<text x="387.20" y="476.60" font-size="8.0" text-anchor="middle" font-weight="normal" fill="#111" stroke="#111" stroke-width="0.15">3</text>
<text x="407.30" y="469.30" font-size="8.0" text-anchor="middle" font-weight="normal" fill="#111" stroke="#111" stroke-width="0.15">20</text>
<text x="407.30" y="476.60" font-size="8.0" text-anchor="middle" font-weight="normal" fill="#111" stroke="#111" stroke-width="0.15">2</text>
<text x="426.80" y="469.30" font-size="8.0" text-anchor="middle" font-weight="normal" fill="#111" stroke="#111" stroke-width="0.15">18</text>
<text x="426.80" y="476.60" font-size="8.0" text-anchor="middle" font-weight="normal" fill="#111" stroke="#111" stroke-width="0.15">2</text>
<text x="446.50" y="469.30" font-size="8.0" text-anchor="middle" font-weight="normal" fill="#111" stroke="#111" stroke-width="0.15">8</text>
<text x="446.50" y="476.60" font-size="8.0" text-anchor="middle" font-weight="normal" fill="#111" stroke="#111" stroke-width="0.15">1</text>
<text x="465.80" y="469.30" font-size="8.0" text-anchor="middle" font-weight="normal" fill="#111" stroke="#111" stroke-width="0.15">2</text>
<text x="465.80" y="476.60" font-size="8.0" text-anchor="middle" font-weight="normal" fill="#111" stroke="#111" stroke-width="0.15">0</text>
<text x="485.80" y="469.30" font-size="8.0" text-anchor="middle" font-weight="normal" fill="#111" stroke="#111" stroke-width="0.15">1</text>
<text x="485.80" y="476.60" font-size="8.0" text-anchor="middle" font-weight="normal" fill="#111" stroke="#111" stroke-width="0.15">0</text>
<text x="504.80" y="469.30" font-size="8.0" text-anchor="middle" font-weight="normal" fill="#111" stroke="#111" stroke-width="0.15">0</text>
<text x="504.80" y="476.60" font-size="8.0" text-anchor="middle" font-weight="normal" fill="#111" stroke="#111" stroke-width="0.15">0</text>
<path d="M301.2,346.4 L301.8,349.6 L302.4,354.6 L302.8,369.1 L303.7,369.8 L304.3,381.1 L305.6,381.8 L305.8,395 L306.2,395.7 L306.6,403.9 H335.2 V409.4 H364 V414.4 H450.8 V430.4" fill="none" stroke="#c80010" stroke-width="1.35" stroke-linejoin="miter"/>
<line x1="356.30" y1="407.20" x2="356.30" y2="411.60" stroke="#c80010" stroke-width="1.25"/>
<line x1="389.60" y1="412.20" x2="389.60" y2="416.60" stroke="#c80010" stroke-width="1.25"/>
<line x1="429.00" y1="412.20" x2="429.00" y2="416.60" stroke="#c80010" stroke-width="1.25"/>
<path d="M300.8,346.4 H304.9 L305.6,348.3 L306.8,351.5 L308.1,355.3 L309.4,359.7 L310,363.5 H318.8 L320.1,365.8 H344.2 V368.1 H346 V370.6 H359.6 V373.1 H383.6 V375 H404.7 V377.7 H407.5 V381.2 H415.5 V384.2 H438.5 V388.8 H488.5" fill="none" stroke="#0a2ea6" stroke-width="1.35" stroke-linejoin="miter"/>
<line x1="321.70" y1="363.60" x2="321.70" y2="368.00" stroke="#0a2ea6" stroke-width="1.25"/>
<line x1="324.80" y1="363.60" x2="324.80" y2="368.00" stroke="#0a2ea6" stroke-width="1.25"/>
<line x1="361.20" y1="370.90" x2="361.20" y2="375.30" stroke="#0a2ea6" stroke-width="1.25"/>
<line x1="367.90" y1="370.90" x2="367.90" y2="375.30" stroke="#0a2ea6" stroke-width="1.25"/>
<line x1="369.20" y1="370.90" x2="369.20" y2="375.30" stroke="#0a2ea6" stroke-width="1.25"/>
<line x1="372.30" y1="370.90" x2="372.30" y2="375.30" stroke="#0a2ea6" stroke-width="1.25"/>
<line x1="377.50" y1="370.90" x2="377.50" y2="375.30" stroke="#0a2ea6" stroke-width="1.25"/>
<line x1="381.30" y1="370.90" x2="381.30" y2="375.30" stroke="#0a2ea6" stroke-width="1.25"/>
<line x1="388.10" y1="372.80" x2="388.10" y2="377.20" stroke="#0a2ea6" stroke-width="1.25"/>
<line x1="397.70" y1="372.80" x2="397.70" y2="377.20" stroke="#0a2ea6" stroke-width="1.25"/>
<line x1="403.50" y1="372.80" x2="403.50" y2="377.20" stroke="#0a2ea6" stroke-width="1.25"/>
<line x1="413.00" y1="379.00" x2="413.00" y2="383.40" stroke="#0a2ea6" stroke-width="1.25"/>
<line x1="420.80" y1="382.00" x2="420.80" y2="386.40" stroke="#0a2ea6" stroke-width="1.25"/>
<line x1="429.50" y1="382.00" x2="429.50" y2="386.40" stroke="#0a2ea6" stroke-width="1.25"/>
<line x1="431.10" y1="382.00" x2="431.10" y2="386.40" stroke="#0a2ea6" stroke-width="1.25"/>
<line x1="432.30" y1="382.00" x2="432.30" y2="386.40" stroke="#0a2ea6" stroke-width="1.25"/>
<line x1="433.50" y1="382.00" x2="433.50" y2="386.40" stroke="#0a2ea6" stroke-width="1.25"/>
<line x1="441.50" y1="386.60" x2="441.50" y2="391.00" stroke="#0a2ea6" stroke-width="1.25"/>
<line x1="442.80" y1="386.60" x2="442.80" y2="391.00" stroke="#0a2ea6" stroke-width="1.25"/>
<line x1="443.80" y1="386.60" x2="443.80" y2="391.00" stroke="#0a2ea6" stroke-width="1.25"/>
<line x1="446.20" y1="386.60" x2="446.20" y2="391.00" stroke="#0a2ea6" stroke-width="1.25"/>
<line x1="447.70" y1="386.60" x2="447.70" y2="391.00" stroke="#0a2ea6" stroke-width="1.25"/>
<line x1="452.60" y1="386.60" x2="452.60" y2="391.00" stroke="#0a2ea6" stroke-width="1.25"/>
<line x1="460.30" y1="386.60" x2="460.30" y2="391.00" stroke="#0a2ea6" stroke-width="1.25"/>
<line x1="465.40" y1="386.60" x2="465.40" y2="391.00" stroke="#0a2ea6" stroke-width="1.25"/>
<line x1="488.50" y1="386.60" x2="488.50" y2="391.00" stroke="#0a2ea6" stroke-width="1.25"/>
<text x="7.20" y="499.00" font-size="10.8" text-anchor="start" font-weight="bold" fill="#000" stroke="#000" stroke-width="0.35">G</text>
<line x1="40.80" y1="506.70" x2="40.80" y2="602.75" stroke="#000" stroke-width="1.5"/>
<line x1="40.05" y1="602.00" x2="253.40" y2="602.00" stroke="#000" stroke-width="1.5"/>
<line x1="38.80" y1="511.30" x2="40.80" y2="511.30" stroke="#000" stroke-width="1.0"/>
<text x="37.50" y="513.80" font-size="7.9" text-anchor="end" fill="#111" stroke="#111" stroke-width="0.12">100<tspan fill="#333" stroke-width="0.15">%</tspan></text>
<line x1="38.80" y1="528.14" x2="40.80" y2="528.14" stroke="#000" stroke-width="1.0"/>
<text x="37.50" y="530.64" font-size="7.9" text-anchor="end" fill="#111" stroke="#111" stroke-width="0.12">80<tspan fill="#333" stroke-width="0.15">%</tspan></text>
<line x1="38.80" y1="544.98" x2="40.80" y2="544.98" stroke="#000" stroke-width="1.0"/>
<text x="37.50" y="547.48" font-size="7.9" text-anchor="end" fill="#111" stroke="#111" stroke-width="0.12">60<tspan fill="#333" stroke-width="0.15">%</tspan></text>
<line x1="38.80" y1="561.82" x2="40.80" y2="561.82" stroke="#000" stroke-width="1.0"/>
<text x="37.50" y="564.32" font-size="7.9" text-anchor="end" fill="#111" stroke="#111" stroke-width="0.12">40<tspan fill="#333" stroke-width="0.15">%</tspan></text>
<line x1="38.80" y1="578.66" x2="40.80" y2="578.66" stroke="#000" stroke-width="1.0"/>
<text x="37.50" y="581.16" font-size="7.9" text-anchor="end" fill="#111" stroke="#111" stroke-width="0.12">20<tspan fill="#333" stroke-width="0.15">%</tspan></text>
<line x1="38.80" y1="595.50" x2="40.80" y2="595.50" stroke="#000" stroke-width="1.0"/>
<text x="37.50" y="598.00" font-size="7.9" text-anchor="end" fill="#111" stroke="#111" stroke-width="0.12">0<tspan fill="#333" stroke-width="0.15">%</tspan></text>
<line x1="40.80" y1="602.00" x2="40.80" y2="603.60" stroke="#000" stroke-width="1.0"/>
<text x="40.80" y="613.50" font-size="7.9" text-anchor="middle" font-weight="normal" fill="#111" stroke="#111" stroke-width="0.18">0</text>
<line x1="61.63" y1="602.00" x2="61.63" y2="603.60" stroke="#000" stroke-width="1.0"/>
<text x="61.25" y="613.50" font-size="7.9" text-anchor="middle" font-weight="normal" fill="#111" stroke="#111" stroke-width="0.18">24</text>
<line x1="82.46" y1="602.00" x2="82.46" y2="603.60" stroke="#000" stroke-width="1.0"/>
<text x="81.70" y="613.50" font-size="7.9" text-anchor="middle" font-weight="normal" fill="#111" stroke="#111" stroke-width="0.18">48</text>
<line x1="103.29" y1="602.00" x2="103.29" y2="603.60" stroke="#000" stroke-width="1.0"/>
<text x="102.15" y="613.50" font-size="7.9" text-anchor="middle" font-weight="normal" fill="#111" stroke="#111" stroke-width="0.18">72</text>
<line x1="124.12" y1="602.00" x2="124.12" y2="603.60" stroke="#000" stroke-width="1.0"/>
<text x="122.60" y="613.50" font-size="7.9" text-anchor="middle" font-weight="normal" fill="#111" stroke="#111" stroke-width="0.18">96</text>
<line x1="144.95" y1="602.00" x2="144.95" y2="603.60" stroke="#000" stroke-width="1.0"/>
<text x="143.05" y="613.50" font-size="7.9" text-anchor="middle" font-weight="normal" fill="#111" stroke="#111" stroke-width="0.18">120</text>
<line x1="165.78" y1="602.00" x2="165.78" y2="603.60" stroke="#000" stroke-width="1.0"/>
<text x="163.50" y="613.50" font-size="7.9" text-anchor="middle" font-weight="normal" fill="#111" stroke="#111" stroke-width="0.18">144</text>
<line x1="186.61" y1="602.00" x2="186.61" y2="603.60" stroke="#000" stroke-width="1.0"/>
<text x="183.95" y="613.50" font-size="7.9" text-anchor="middle" font-weight="normal" fill="#111" stroke="#111" stroke-width="0.18">168</text>
<line x1="207.44" y1="602.00" x2="207.44" y2="603.60" stroke="#000" stroke-width="1.0"/>
<text x="204.40" y="613.50" font-size="7.9" text-anchor="middle" font-weight="normal" fill="#111" stroke="#111" stroke-width="0.18">192</text>
<line x1="228.27" y1="602.00" x2="228.27" y2="603.60" stroke="#000" stroke-width="1.0"/>
<text x="224.85" y="613.50" font-size="7.9" text-anchor="middle" font-weight="normal" fill="#111" stroke="#111" stroke-width="0.18">216</text>
<line x1="249.10" y1="602.00" x2="249.10" y2="603.60" stroke="#000" stroke-width="1.0"/>
<text x="245.30" y="613.50" font-size="7.9" text-anchor="middle" font-weight="normal" fill="#111" stroke="#111" stroke-width="0.18">240</text>
<text x="145.30" y="624.20" font-size="8.3" text-anchor="middle" font-weight="normal" fill="#111" textLength="41.0" lengthAdjust="spacingAndGlyphs" stroke="#111" stroke-width="0.3">Time (months)</text>
<g transform="translate(16.00,554.10) rotate(-90)">
<text x="0.00" y="0.00" font-size="7.5" text-anchor="middle" font-weight="normal" fill="#111" textLength="59.8" lengthAdjust="spacingAndGlyphs" stroke="#111" stroke-width="0.2">Probability of relapse</text>
</g>
<line x1="143.70" y1="521.00" x2="155.80" y2="521.00" stroke="#0a2ea6" stroke-width="2.0"/>
<line x1="143.70" y1="529.70" x2="155.80" y2="529.70" stroke="#c80010" stroke-width="2.0"/>
<text x="156.40" y="523.40" font-size="7.1" text-anchor="start" font-weight="normal" fill="#111" textLength="65.6" lengthAdjust="spacingAndGlyphs" stroke="#111" stroke-width="0.08">No BM disease at Dx</text>
<text x="157.60" y="531.60" font-size="7.1" text-anchor="start" font-weight="normal" fill="#111" textLength="53.9" lengthAdjust="spacingAndGlyphs" stroke="#111" stroke-width="0.08">BM disease at Dx</text>
<text x="144.80" y="542.60" font-size="7.1" text-anchor="start" font-weight="normal" fill="#111" stroke="#111" stroke-width="0.08">P = 0.02</text>
<path d="M49.5,598.3 L49.8,597.6 L50.5,592.4 H52.3 L53.1,585 L54.2,583.2 L55.1,581.2 L55.4,577.3 H65.4 L66.2,575.6 H109.4 V573.7 H228.6" fill="none" stroke="#d01828" stroke-width="1.35" stroke-linejoin="miter"/>
<path d="M47.7,598.5 H207" fill="none" stroke="#1644b4" stroke-width="1.35" stroke-linejoin="miter"/>
<text x="267.50" y="497.60" font-size="10.8" text-anchor="start" font-weight="bold" fill="#000" stroke="#000" stroke-width="0.35">H</text>
<line x1="299.60" y1="506.90" x2="299.60" y2="602.75" stroke="#000" stroke-width="1.5"/>
<line x1="298.85" y1="602.00" x2="512.20" y2="602.00" stroke="#000" stroke-width="1.5"/>
<line x1="297.60" y1="511.00" x2="299.60" y2="511.00" stroke="#000" stroke-width="1.0"/>
<text x="296.30" y="513.50" font-size="7.9" text-anchor="end" fill="#111" stroke="#111" stroke-width="0.12">100<tspan fill="#333" stroke-width="0.15">%</tspan></text>
<line x1="297.60" y1="527.90" x2="299.60" y2="527.90" stroke="#000" stroke-width="1.0"/>
<text x="296.30" y="530.40" font-size="7.9" text-anchor="end" fill="#111" stroke="#111" stroke-width="0.12">80<tspan fill="#333" stroke-width="0.15">%</tspan></text>
<line x1="297.60" y1="544.80" x2="299.60" y2="544.80" stroke="#000" stroke-width="1.0"/>
<text x="296.30" y="547.30" font-size="7.9" text-anchor="end" fill="#111" stroke="#111" stroke-width="0.12">60<tspan fill="#333" stroke-width="0.15">%</tspan></text>
<line x1="297.60" y1="561.70" x2="299.60" y2="561.70" stroke="#000" stroke-width="1.0"/>
<text x="296.30" y="564.20" font-size="7.9" text-anchor="end" fill="#111" stroke="#111" stroke-width="0.12">40<tspan fill="#333" stroke-width="0.15">%</tspan></text>
<line x1="297.60" y1="578.60" x2="299.60" y2="578.60" stroke="#000" stroke-width="1.0"/>
<text x="296.30" y="581.10" font-size="7.9" text-anchor="end" fill="#111" stroke="#111" stroke-width="0.12">20<tspan fill="#333" stroke-width="0.15">%</tspan></text>
<line x1="297.60" y1="595.50" x2="299.60" y2="595.50" stroke="#000" stroke-width="1.0"/>
<text x="296.30" y="598.00" font-size="7.9" text-anchor="end" fill="#111" stroke="#111" stroke-width="0.12">0<tspan fill="#333" stroke-width="0.15">%</tspan></text>
<line x1="299.60" y1="602.00" x2="299.60" y2="603.60" stroke="#000" stroke-width="1.0"/>
<text x="299.60" y="613.50" font-size="7.9" text-anchor="middle" font-weight="normal" fill="#111" stroke="#111" stroke-width="0.18">0</text>
<line x1="320.43" y1="602.00" x2="320.43" y2="603.60" stroke="#000" stroke-width="1.0"/>
<text x="320.05" y="613.50" font-size="7.9" text-anchor="middle" font-weight="normal" fill="#111" stroke="#111" stroke-width="0.18">24</text>
<line x1="341.26" y1="602.00" x2="341.26" y2="603.60" stroke="#000" stroke-width="1.0"/>
<text x="340.50" y="613.50" font-size="7.9" text-anchor="middle" font-weight="normal" fill="#111" stroke="#111" stroke-width="0.18">48</text>
<line x1="362.09" y1="602.00" x2="362.09" y2="603.60" stroke="#000" stroke-width="1.0"/>
<text x="360.95" y="613.50" font-size="7.9" text-anchor="middle" font-weight="normal" fill="#111" stroke="#111" stroke-width="0.18">72</text>
<line x1="382.92" y1="602.00" x2="382.92" y2="603.60" stroke="#000" stroke-width="1.0"/>
<text x="381.40" y="613.50" font-size="7.9" text-anchor="middle" font-weight="normal" fill="#111" stroke="#111" stroke-width="0.18">96</text>
<line x1="403.75" y1="602.00" x2="403.75" y2="603.60" stroke="#000" stroke-width="1.0"/>
<text x="401.85" y="613.50" font-size="7.9" text-anchor="middle" font-weight="normal" fill="#111" stroke="#111" stroke-width="0.18">120</text>
<line x1="424.58" y1="602.00" x2="424.58" y2="603.60" stroke="#000" stroke-width="1.0"/>
<text x="422.30" y="613.50" font-size="7.9" text-anchor="middle" font-weight="normal" fill="#111" stroke="#111" stroke-width="0.18">144</text>
<line x1="445.41" y1="602.00" x2="445.41" y2="603.60" stroke="#000" stroke-width="1.0"/>
<text x="442.75" y="613.50" font-size="7.9" text-anchor="middle" font-weight="normal" fill="#111" stroke="#111" stroke-width="0.18">168</text>
<line x1="466.24" y1="602.00" x2="466.24" y2="603.60" stroke="#000" stroke-width="1.0"/>
<text x="463.20" y="613.50" font-size="7.9" text-anchor="middle" font-weight="normal" fill="#111" stroke="#111" stroke-width="0.18">192</text>
<line x1="487.07" y1="602.00" x2="487.07" y2="603.60" stroke="#000" stroke-width="1.0"/>
<text x="483.65" y="613.50" font-size="7.9" text-anchor="middle" font-weight="normal" fill="#111" stroke="#111" stroke-width="0.18">216</text>
<line x1="507.90" y1="602.00" x2="507.90" y2="603.60" stroke="#000" stroke-width="1.0"/>
<text x="504.10" y="613.50" font-size="7.9" text-anchor="middle" font-weight="normal" fill="#111" stroke="#111" stroke-width="0.18">240</text>
<text x="404.30" y="624.20" font-size="8.3" text-anchor="middle" font-weight="normal" fill="#111" textLength="41.0" lengthAdjust="spacingAndGlyphs" stroke="#111" stroke-width="0.3">Time (months)</text>
<g transform="translate(276.00,554.10) rotate(-90)">
<text x="0.00" y="0.00" font-size="7.5" text-anchor="middle" font-weight="normal" fill="#111" textLength="59.8" lengthAdjust="spacingAndGlyphs" stroke="#111" stroke-width="0.2">Probability of relapse</text>
</g>
<line x1="396.50" y1="521.00" x2="407.50" y2="521.00" stroke="#0a2ea6" stroke-width="2.0"/>
<line x1="396.50" y1="529.70" x2="407.50" y2="529.70" stroke="#c80010" stroke-width="2.0"/>
<text x="411.30" y="523.40" font-size="7.1" text-anchor="start" font-weight="normal" fill="#111" textLength="69.8" lengthAdjust="spacingAndGlyphs" stroke="#111" stroke-width="0.08">No CNS disease at Dx</text>
<text x="411.30" y="532.10" font-size="7.1" text-anchor="start" font-weight="normal" fill="#111" textLength="58.6" lengthAdjust="spacingAndGlyphs" stroke="#111" stroke-width="0.08">CNS disease at Dx</text>
<text x="398.60" y="542.60" font-size="7.1" text-anchor="start" font-weight="normal" fill="#111" stroke="#111" stroke-width="0.08">P &lt; 0.01</text>
<path d="M306.5,597.8 H308.5 L308.8,593.5 L309.5,588.8 L310,580.4 H312.2 V563 H367.5 V557.4 H450.3" fill="none" stroke="#d01828" stroke-width="1.2" stroke-linejoin="miter"/>
<path d="M308,597.8 H312.6 L312.9,594.7 L313.8,593.5 L314.6,589.6 H323.4 L324.5,587.3 H486.1" fill="none" stroke="#1644b4" stroke-width="1.2" stroke-linejoin="miter"/>
<rect x="0.6" y="0.6" width="518.8" height="631.8" fill="none" stroke="#000" stroke-width="1.3"/>
</svg>
</body></html>
